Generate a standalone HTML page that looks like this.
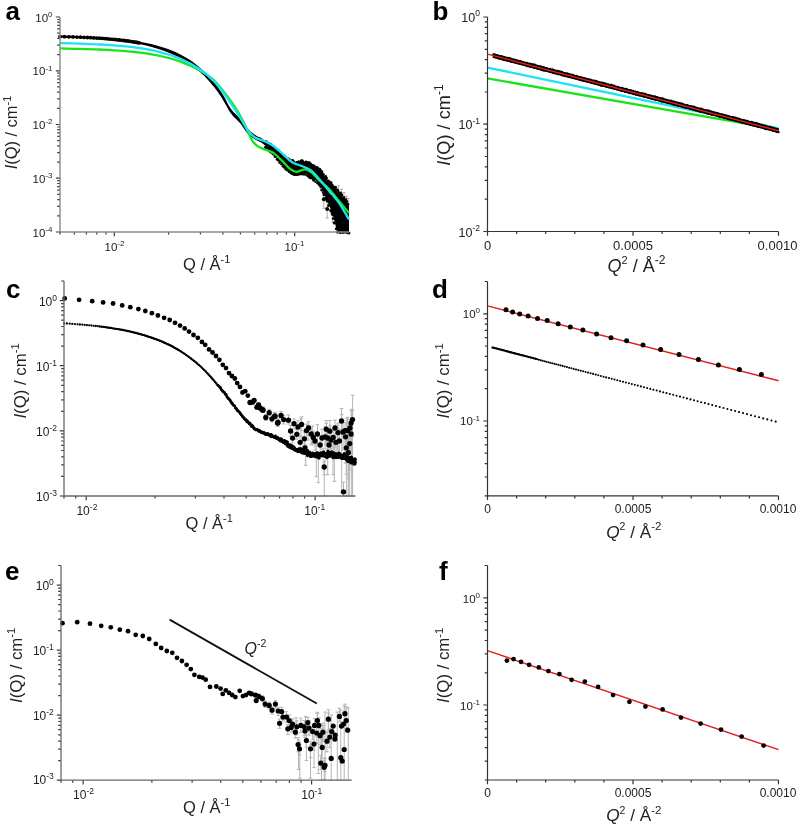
<!DOCTYPE html><html><head><meta charset="utf-8"><style>html,body{margin:0;padding:0;background:#fff;}svg{display:block;will-change:transform;}text{font-family:"Liberation Sans",sans-serif;}</style></head><body>
<svg width="800" height="825" viewBox="0 0 800 825">
<rect width="800" height="825" fill="#fff"/>
<path d="M60 36.6C60.5 36.6 62 36.6 63 36.6C64 36.7 65 36.7 66 36.7C67 36.7 68 36.8 69 36.8C70 36.8 71 36.9 72 36.9C73 36.9 74 37 75 37C76 37 77 37.1 78 37.1C79 37.2 80 37.2 81 37.2C82 37.3 83 37.3 84 37.4C85 37.4 86 37.5 87 37.5C88 37.6 89 37.6 90 37.7C91 37.7 92 37.8 93 37.8C94 37.9 95 37.9 96 38C97 38.1 98 38.1 99 38.2C100 38.3 101 38.3 102 38.4C103 38.5 104 38.6 105 38.6C106 38.7 107 38.8 108 38.9C109 39 110 39 111 39.1C112 39.2 113 39.3 114 39.4C115 39.5 116 39.6 117 39.7C118 39.8 119 39.9 120 40C121 40.2 122 40.3 123 40.4C124 40.5 125 40.6 126 40.8C127 40.9 128 41 129 41.2C130 41.3 131 41.5 132 41.6C133 41.8 134.5 42 135 42.1" stroke="#000" stroke-width="2.1" fill="none"/>
<path d="M323.8 190.3V208.3M322.3 190.3H325.3M322.3 208.3H325.3M327.2 200V218M325.7 200H328.7M325.7 218H328.7M332.5 203.9V221.9M331 203.9H334M331 221.9H334M336.4 210.2V228.2M334.9 210.2H337.9M334.9 228.2H337.9M341 214V232M339.5 214H342.5M339.5 232H342.5M345 217V232M343.5 217H346.5M343.5 232H346.5M338.5 185.7V232M337 185.7H340M337 232H340M341.5 189.3V232M340 189.3H343M340 232H343M344 192.5V232M342.5 192.5H345.5M342.5 232H345.5M346.5 196.2V232M345 196.2H348M345 232H348M348 198.5V232M346.5 198.5H349.5M346.5 232H349.5" stroke="#b0b0b0" stroke-width="1" fill="none"/>
<path d="M130 40.2C131.7 40.5 136.7 41.2 140 41.7C143.3 42.3 146.7 43 150 43.7C153.3 44.5 156.7 45.4 160 46.4C163.3 47.4 166.7 48.5 170 49.8C173.3 51.1 176.7 52.5 180 54.3C183.3 56 186.7 57.9 190 60.1C193.3 62.3 197 65.1 200 67.7C203 70.2 205.3 72.5 208 75.3C210.7 78.1 213.5 81.4 216 84.7C218.5 87.9 220.5 90.6 223 94.7C225.5 98.7 228.2 105 231 109C233.8 113 237.2 115.2 240 118.5C242.8 121.8 245.3 126.2 248 129C250.7 131.8 253.7 133.9 256 135.5C258.3 137.1 259.7 136.9 262 138.5C264.3 140.1 267.6 143.2 270 145C272.4 146.8 274.2 147.6 276.2 149.4C278.3 151.2 280.4 153.8 282.5 155.6C284.6 157.4 286.7 158.8 288.8 160C290.8 161.2 292.9 162.8 295 163.1C297.1 163.4 299.2 161.8 301.2 161.9C303.3 162 305.4 162.8 307.5 163.4C309.6 164 311.7 164.5 313.8 165.6C315.8 166.7 317.4 167.2 320 170C322.6 172.8 326 178.6 329.1 182.3C332.2 186 336.4 189.4 338.8 192C341.2 194.6 342 195.7 343.7 198C345.4 200.3 348.1 204.7 349 206L349 232C347.2 232 340.1 232.5 338 232C335.9 231.5 337.2 231.2 336.5 229C335.8 226.8 334.9 222.2 334 219C333.1 215.8 332.3 213.4 331 210C329.7 206.6 328 203 326.2 198.8C324.4 194.6 322.1 188.3 320 185C317.9 181.7 315.8 180.5 313.8 178.8C311.7 177 309.6 175.3 307.5 174.4C305.4 173.5 303.3 173.2 301.2 173.1C299.2 173 297.1 174.2 295 173.8C292.9 173.3 290.8 172.1 288.8 170.6C286.7 169.1 284.6 167.3 282.5 165C280.4 162.7 278.3 159.4 276.2 156.9C274.2 154.4 272.4 152.3 270 150C267.6 147.7 264.3 144.7 262 143C259.7 141.3 258.3 141.5 256 140C253.7 138.5 250.7 136.8 248 134C245.3 131.2 242.8 126.4 240 123C237.2 119.6 233.8 117.4 231 113.5C228.2 109.6 225.5 103.8 223 99.9C220.5 95.9 218.5 92.9 216 89.6C213.5 86.3 210.7 82.9 208 80C205.3 77.1 203 74.7 200 72.1C197 69.5 193.3 66.6 190 64.2C186.7 61.9 183.3 59.9 180 58.1C176.7 56.2 173.3 54.7 170 53.3C166.7 51.9 163.3 50.6 160 49.5C156.7 48.4 153.3 47.5 150 46.6C146.7 45.7 143.3 45 140 44.3C136.7 43.6 131.7 42.7 130 42.4Z" fill="#000"/>
<g fill="#000"><circle cx="60" cy="36.6" r="1.9"/><circle cx="64.6" cy="36.7" r="1.9"/><circle cx="68.9" cy="36.8" r="1.9"/><circle cx="73" cy="36.9" r="1.9"/><circle cx="76.9" cy="37.1" r="1.9"/><circle cx="80.6" cy="37.2" r="1.9"/><circle cx="84.1" cy="37.4" r="1.9"/><circle cx="87.5" cy="37.5" r="1.9"/><circle cx="90.7" cy="37.7" r="1.9"/><circle cx="93.8" cy="37.9" r="1.9"/><circle cx="96.8" cy="38.1" r="1.9"/><circle cx="99.7" cy="38.2" r="1.9"/><circle cx="102.5" cy="38.4" r="1.9"/><circle cx="105.2" cy="38.6" r="1.9"/><circle cx="107.8" cy="38.9" r="1.9"/><circle cx="110.3" cy="39.1" r="1.9"/><circle cx="112.7" cy="39.3" r="1.9"/><circle cx="115.1" cy="39.5" r="1.9"/><circle cx="117.4" cy="39.8" r="1.9"/><circle cx="119.6" cy="40" r="1.9"/><circle cx="121.8" cy="40.3" r="1.9"/><circle cx="123.9" cy="40.5" r="1.9"/><circle cx="125.9" cy="40.8" r="1.9"/><circle cx="127.9" cy="41" r="1.9"/><circle cx="129.9" cy="41.3" r="1.9"/><circle cx="131.8" cy="41.6" r="1.9"/><circle cx="133.6" cy="41.9" r="1.9"/><circle cx="135.5" cy="42.2" r="1.9"/><circle cx="137.2" cy="42.5" r="1.9"/><circle cx="139" cy="42.8" r="1.9"/><circle cx="265.9" cy="141.6" r="1.6"/><circle cx="267.1" cy="142.2" r="1.2"/><circle cx="268.2" cy="143.3" r="1.2"/><circle cx="269.6" cy="143.7" r="1.3"/><circle cx="271" cy="144.5" r="1.5"/><circle cx="272.7" cy="146.6" r="1.7"/><circle cx="273.3" cy="147.4" r="1.4"/><circle cx="275.1" cy="148.1" r="1.6"/><circle cx="276.8" cy="149.8" r="1.2"/><circle cx="278.1" cy="150.6" r="1.4"/><circle cx="279.5" cy="152.3" r="1.7"/><circle cx="281.1" cy="153.7" r="1.5"/><circle cx="283.3" cy="155.7" r="1.8"/><circle cx="284.2" cy="155.9" r="1.3"/><circle cx="285.4" cy="157.1" r="1.7"/><circle cx="287.6" cy="158.6" r="1.6"/><circle cx="289" cy="159.5" r="1.7"/><circle cx="290.8" cy="160.2" r="1.2"/><circle cx="292.7" cy="160.7" r="1.7"/><circle cx="293.7" cy="161.7" r="1.2"/><circle cx="295" cy="162.9" r="1.2"/><circle cx="296.8" cy="162.4" r="1.4"/><circle cx="298.6" cy="161.8" r="1.5"/><circle cx="301.1" cy="160.9" r="1.4"/><circle cx="302.1" cy="161.1" r="1.8"/><circle cx="303.1" cy="162.1" r="1.3"/><circle cx="304.9" cy="162.5" r="1.2"/><circle cx="306.2" cy="162.4" r="1.8"/><circle cx="308" cy="162.8" r="1.6"/><circle cx="309.4" cy="163" r="1.7"/><circle cx="310.8" cy="164.1" r="1.3"/><circle cx="312.1" cy="165.1" r="1.3"/><circle cx="313.5" cy="165.5" r="1.2"/><circle cx="314.5" cy="165.9" r="1.2"/><circle cx="316.8" cy="167.5" r="1.4"/><circle cx="317.9" cy="168.4" r="1.7"/><circle cx="320" cy="169.4" r="1.3"/><circle cx="321" cy="171.2" r="1.7"/><circle cx="321.9" cy="171.9" r="1.5"/><circle cx="323.4" cy="174.6" r="1.5"/><circle cx="325.7" cy="176.4" r="1.4"/><circle cx="326.5" cy="178.2" r="1.5"/><circle cx="328.4" cy="181.3" r="1.7"/><circle cx="330.8" cy="182.8" r="1.7"/><circle cx="332" cy="184.8" r="1.4"/><circle cx="332.9" cy="186.2" r="1.4"/><circle cx="335.3" cy="187.6" r="1.8"/><circle cx="337.3" cy="189.7" r="1.3"/><circle cx="338" cy="191.1" r="1.6"/><circle cx="340.4" cy="193" r="1.6"/><circle cx="341.6" cy="195" r="1.7"/><circle cx="343.9" cy="197.4" r="1.3"/><circle cx="345.3" cy="199.7" r="1.8"/><circle cx="346.8" cy="201.6" r="1.6"/><circle cx="347.7" cy="204.4" r="1.7"/><circle cx="265.7" cy="147.5" r="1.8"/><circle cx="267.5" cy="148.6" r="1.3"/><circle cx="269" cy="149.6" r="1.5"/><circle cx="270.6" cy="151.7" r="1.7"/><circle cx="271.6" cy="152.4" r="1.3"/><circle cx="273.2" cy="154.3" r="1.3"/><circle cx="275.2" cy="156.4" r="1.6"/><circle cx="277.2" cy="159.3" r="1.5"/><circle cx="278.8" cy="160.2" r="1.5"/><circle cx="279.5" cy="162.6" r="1.3"/><circle cx="281.6" cy="164.2" r="1.4"/><circle cx="283" cy="166.3" r="1.3"/><circle cx="284.3" cy="167.1" r="1.7"/><circle cx="286" cy="169" r="1.7"/><circle cx="287.5" cy="170" r="1.5"/><circle cx="289.1" cy="171.4" r="1.5"/><circle cx="291.2" cy="172.8" r="1.8"/><circle cx="292.4" cy="173.5" r="1.7"/><circle cx="293.2" cy="173.5" r="1.2"/><circle cx="294.4" cy="174.4" r="1.7"/><circle cx="296.3" cy="174.4" r="1.6"/><circle cx="298.1" cy="174.6" r="1.3"/><circle cx="299.6" cy="173.8" r="1.8"/><circle cx="301.3" cy="173.7" r="1.5"/><circle cx="302.6" cy="173.8" r="1.6"/><circle cx="303.9" cy="174.2" r="1.2"/><circle cx="305.3" cy="174.5" r="1.2"/><circle cx="307.4" cy="175.5" r="1.3"/><circle cx="308.1" cy="176" r="1.4"/><circle cx="309.5" cy="177" r="1.7"/><circle cx="310.6" cy="177.8" r="1.5"/><circle cx="312.2" cy="178" r="1.6"/><circle cx="313.6" cy="180.1" r="1.6"/><circle cx="315.5" cy="181.8" r="1.2"/><circle cx="317.6" cy="183.1" r="1.5"/><circle cx="319.4" cy="184.7" r="1.5"/><circle cx="320.5" cy="187" r="1.2"/><circle cx="321.9" cy="189.9" r="1.7"/><circle cx="323.3" cy="192.6" r="1.4"/><circle cx="324.1" cy="194.6" r="1.6"/><circle cx="325.6" cy="198.6" r="1.8"/><circle cx="327.2" cy="201.1" r="1.5"/><circle cx="328.7" cy="205.5" r="1.6"/><circle cx="330.7" cy="210.5" r="1.6"/><circle cx="332.4" cy="214.7" r="1.2"/><circle cx="333.2" cy="218.6" r="1.4"/><circle cx="334.4" cy="222.9" r="1.7"/><circle cx="336.2" cy="228.9" r="1.4"/><circle cx="337.6" cy="232.3" r="1.4"/><circle cx="340.2" cy="232.7" r="1.3"/><circle cx="341.6" cy="232.4" r="1.2"/><circle cx="343.1" cy="232.6" r="1.3"/><circle cx="344.3" cy="232.3" r="1.3"/><circle cx="345.7" cy="232" r="1.4"/><circle cx="347.4" cy="232.6" r="1.7"/><circle cx="349.1" cy="233.1" r="1.4"/><circle cx="323.8" cy="199.3" r="2.0"/><circle cx="327.2" cy="209" r="2.0"/><circle cx="332.5" cy="212.9" r="2.0"/><circle cx="336.4" cy="219.2" r="2.0"/><circle cx="341" cy="223" r="2.0"/><circle cx="345" cy="226" r="2.0"/></g>
<path d="M60 48.4C63.3 48.5 73.3 48.6 80 48.8C86.7 49 93.3 49.2 100 49.5C106.7 49.9 113.3 50.2 120 50.7C126.7 51.2 133.3 51.8 140 52.7C146.7 53.6 153.3 54.5 160 56C166.7 57.4 173.3 59 180 61.4C186.7 63.9 194.2 67.2 200 70.5C205.8 73.8 210 76.2 215 81.2C220 86.1 226.2 95 230 100C233.8 105 235 107.1 237.5 111.2C240 115.4 242.7 120.4 245 125C247.3 129.6 249.2 135.2 251.2 138.8C253.3 142.3 255 144.4 257.5 146.2C260 148.1 263.5 148.9 266.2 150C269 151.1 271 151.2 273.8 153.1C276.5 155 279.8 158.6 282.5 161.2C285.2 163.9 287.7 167 290 168.8C292.3 170.5 293.8 171.8 296.2 171.9C298.8 172 302.4 169.3 305 169.4C307.6 169.5 309.3 170.8 311.7 172.6C314.1 174.4 316.5 177.7 319.4 180.4C322.3 183.2 325.9 185.7 329.1 189.1C332.3 192.5 335.5 196.8 338.8 200.8C342.1 204.8 347.3 211 349 213" stroke="#18e418" stroke-width="2.3" fill="none"/>
<path d="M60 43.1C63.3 43.2 73.3 43.4 80 43.6C86.7 43.9 93.3 44.1 100 44.5C106.7 44.8 113.3 45.3 120 45.9C126.7 46.5 133.3 47.2 140 48.2C146.7 49.3 153.3 50.4 160 52.1C166.7 53.9 173.3 55.7 180 58.6C186.7 61.5 194.2 65.6 200 69.5C205.8 73.4 210.4 77.3 215 82.1C219.6 87 223.3 92.6 227.5 98.5C231.7 104.4 236.7 112.2 240 117.5C243.3 122.8 245 126.7 247.5 130C250 133.3 252.1 135.6 255 137.5C257.9 139.4 261.9 139.8 265 141.2C268.1 142.7 270.8 144.2 273.8 146.2C276.7 148.3 279.4 151 282.5 153.8C285.6 156.5 289.2 160.4 292.5 162.5C295.8 164.6 299.4 164.9 302.5 166.2C305.6 167.6 308.3 168.3 311.2 170.6C314.2 172.9 317 176.6 320 180C323 183.4 326 187.2 329.1 191C332.2 194.8 335.5 197.9 338.8 202.7C342.1 207.4 347.3 216.7 349 219.5" stroke="#18e4f4" stroke-width="2.3" fill="none"/>
<path d="M55.8 232H60M55.8 178.2H60M55.8 124.5H60M55.8 70.8H60M55.8 17H60M57.2 215.8H60M57.2 206.4H60M57.2 199.6H60M57.2 194.4H60M57.2 190.2H60M57.2 186.6H60M57.2 183.5H60M57.2 180.7H60M57.2 162.1H60M57.2 152.6H60M57.2 145.9H60M57.2 140.7H60M57.2 136.4H60M57.2 132.8H60M57.2 129.7H60M57.2 127H60M57.2 108.3H60M57.2 98.9H60M57.2 92.1H60M57.2 86.9H60M57.2 82.7H60M57.2 79.1H60M57.2 76H60M57.2 73.2H60M57.2 54.6H60M57.2 45.1H60M57.2 38.4H60M57.2 33.2H60M57.2 28.9H60M57.2 25.3H60M57.2 22.2H60M57.2 19.5H60M114.3 232V236.2M294.7 232V236.2M60 232V234.5M74.3 232V234.5M86.4 232V234.5M96.8 232V234.5M106 232V234.5M168.6 232V234.5M200.4 232V234.5M222.9 232V234.5M240.4 232V234.5M254.7 232V234.5M266.8 232V234.5M277.2 232V234.5M286.4 232V234.5M349 232V234.5" stroke="#3a3a3a" stroke-width="1.2" fill="none"/>
<path d="M60 232H349M60 232V17" stroke="#8a8a8a" stroke-width="1.4" fill="none"/>
<path d="M487.5 78.4L778.5 129.4" stroke="#18e418" stroke-width="2.3" fill="none"/>
<path d="M487.5 67.6L778.5 128.3" stroke="#18e4f4" stroke-width="2.3" fill="none"/>
<path d="M493 55.5L778 130.6" stroke="#000" stroke-width="4.4" fill="none"/>
<g fill="#000"><circle cx="493.5" cy="54.6" r="1.25"/><circle cx="494.2" cy="56.7" r="1.25"/><circle cx="495.7" cy="55" r="1.25"/><circle cx="496.4" cy="57.2" r="1.25"/><circle cx="497.9" cy="55.7" r="1.25"/><circle cx="498.6" cy="58.2" r="1.25"/><circle cx="500.1" cy="56.2" r="1.25"/><circle cx="500.8" cy="58.5" r="1.25"/><circle cx="502.2" cy="56.6" r="1.25"/><circle cx="502.9" cy="59.5" r="1.25"/><circle cx="504.4" cy="57.4" r="1.25"/><circle cx="505.1" cy="59.9" r="1.25"/><circle cx="506.7" cy="57.9" r="1.25"/><circle cx="507.4" cy="60.6" r="1.25"/><circle cx="508.5" cy="57.9" r="1.25"/><circle cx="509.2" cy="60.7" r="1.25"/><circle cx="510.4" cy="58.5" r="1.25"/><circle cx="511.1" cy="61.7" r="1.25"/><circle cx="512.4" cy="59.4" r="1.25"/><circle cx="513.1" cy="62.1" r="1.25"/><circle cx="514.6" cy="59.8" r="1.25"/><circle cx="515.3" cy="62.2" r="1.25"/><circle cx="516.8" cy="60.6" r="1.25"/><circle cx="517.5" cy="63.1" r="1.25"/><circle cx="518.8" cy="61.1" r="1.25"/><circle cx="519.5" cy="63.4" r="1.25"/><circle cx="521" cy="61.4" r="1.25"/><circle cx="521.7" cy="63.9" r="1.25"/><circle cx="522.8" cy="62.2" r="1.25"/><circle cx="523.5" cy="64.5" r="1.25"/><circle cx="525" cy="62.9" r="1.25"/><circle cx="525.7" cy="65.3" r="1.25"/><circle cx="526.9" cy="63.1" r="1.25"/><circle cx="527.6" cy="65.9" r="1.25"/><circle cx="529.2" cy="63.8" r="1.25"/><circle cx="529.9" cy="66.5" r="1.25"/><circle cx="530.8" cy="63.9" r="1.25"/><circle cx="531.5" cy="66.6" r="1.25"/><circle cx="533" cy="64.6" r="1.25"/><circle cx="533.7" cy="67.4" r="1.25"/><circle cx="534.6" cy="64.8" r="1.25"/><circle cx="535.3" cy="67.7" r="1.25"/><circle cx="536.8" cy="65.8" r="1.25"/><circle cx="537.5" cy="68.5" r="1.25"/><circle cx="538.6" cy="66.2" r="1.25"/><circle cx="539.3" cy="68.8" r="1.25"/><circle cx="540.6" cy="66.4" r="1.25"/><circle cx="541.3" cy="69.7" r="1.25"/><circle cx="542.3" cy="67.5" r="1.25"/><circle cx="543" cy="70.2" r="1.25"/><circle cx="543.9" cy="67.5" r="1.25"/><circle cx="544.6" cy="70.5" r="1.25"/><circle cx="546.3" cy="68.2" r="1.25"/><circle cx="547" cy="70.7" r="1.25"/><circle cx="548.1" cy="69" r="1.25"/><circle cx="548.8" cy="71.2" r="1.25"/><circle cx="550.1" cy="69" r="1.25"/><circle cx="550.8" cy="71.9" r="1.25"/><circle cx="552.5" cy="69.6" r="1.25"/><circle cx="553.2" cy="72.8" r="1.25"/><circle cx="554.5" cy="70.6" r="1.25"/><circle cx="555.2" cy="73.2" r="1.25"/><circle cx="556.3" cy="71.1" r="1.25"/><circle cx="557" cy="73.5" r="1.25"/><circle cx="557.9" cy="70.9" r="1.25"/><circle cx="558.6" cy="74" r="1.25"/><circle cx="559.9" cy="71.6" r="1.25"/><circle cx="560.6" cy="74.2" r="1.25"/><circle cx="561.8" cy="72.1" r="1.25"/><circle cx="562.5" cy="75.2" r="1.25"/><circle cx="563.4" cy="72.9" r="1.25"/><circle cx="564.1" cy="75.6" r="1.25"/><circle cx="565.1" cy="73.4" r="1.25"/><circle cx="565.8" cy="76" r="1.25"/><circle cx="567.4" cy="73.6" r="1.25"/><circle cx="568.1" cy="76.4" r="1.25"/><circle cx="569.3" cy="74.6" r="1.25"/><circle cx="570" cy="77" r="1.25"/><circle cx="571.2" cy="74.7" r="1.25"/><circle cx="571.9" cy="77.3" r="1.25"/><circle cx="572.8" cy="74.9" r="1.25"/><circle cx="573.5" cy="78.1" r="1.25"/><circle cx="574.6" cy="76" r="1.25"/><circle cx="575.3" cy="78.2" r="1.25"/><circle cx="576.5" cy="76.1" r="1.25"/><circle cx="577.2" cy="78.6" r="1.25"/><circle cx="578.4" cy="77" r="1.25"/><circle cx="579.1" cy="79.6" r="1.25"/><circle cx="580.6" cy="77.3" r="1.25"/><circle cx="581.3" cy="80.2" r="1.25"/><circle cx="583" cy="77.9" r="1.25"/><circle cx="583.7" cy="80.7" r="1.25"/><circle cx="584.6" cy="78.4" r="1.25"/><circle cx="585.3" cy="81" r="1.25"/><circle cx="586.8" cy="79" r="1.25"/><circle cx="587.5" cy="81.4" r="1.25"/><circle cx="588.4" cy="79.6" r="1.25"/><circle cx="589.1" cy="81.7" r="1.25"/><circle cx="590.4" cy="79.7" r="1.25"/><circle cx="591.1" cy="82.4" r="1.25"/><circle cx="592.6" cy="80.7" r="1.25"/><circle cx="593.3" cy="82.9" r="1.25"/><circle cx="594.7" cy="80.8" r="1.25"/><circle cx="595.4" cy="83.7" r="1.25"/><circle cx="596.6" cy="81.2" r="1.25"/><circle cx="597.3" cy="83.9" r="1.25"/><circle cx="598.4" cy="82.2" r="1.25"/><circle cx="599.1" cy="84.6" r="1.25"/><circle cx="600.2" cy="82.7" r="1.25"/><circle cx="600.9" cy="85.4" r="1.25"/><circle cx="602.2" cy="82.7" r="1.25"/><circle cx="602.9" cy="85.4" r="1.25"/><circle cx="603.8" cy="83.2" r="1.25"/><circle cx="604.5" cy="85.8" r="1.25"/><circle cx="605.6" cy="83.7" r="1.25"/><circle cx="606.3" cy="86.6" r="1.25"/><circle cx="607.9" cy="84.6" r="1.25"/><circle cx="608.6" cy="87.1" r="1.25"/><circle cx="609.9" cy="85" r="1.25"/><circle cx="610.6" cy="87.6" r="1.25"/><circle cx="611.7" cy="85.1" r="1.25"/><circle cx="612.4" cy="88" r="1.25"/><circle cx="614.1" cy="85.8" r="1.25"/><circle cx="614.8" cy="88.8" r="1.25"/><circle cx="616.2" cy="86.9" r="1.25"/><circle cx="616.9" cy="89.1" r="1.25"/><circle cx="618" cy="86.9" r="1.25"/><circle cx="618.7" cy="89.7" r="1.25"/><circle cx="620" cy="87.9" r="1.25"/><circle cx="620.7" cy="90.6" r="1.25"/><circle cx="622.3" cy="87.9" r="1.25"/><circle cx="623" cy="90.6" r="1.25"/><circle cx="624.4" cy="89.1" r="1.25"/><circle cx="625.1" cy="91.5" r="1.25"/><circle cx="626.5" cy="89" r="1.25"/><circle cx="627.2" cy="92" r="1.25"/><circle cx="628.9" cy="90.2" r="1.25"/><circle cx="629.6" cy="92.9" r="1.25"/><circle cx="631.2" cy="90.4" r="1.25"/><circle cx="631.9" cy="93" r="1.25"/><circle cx="633" cy="91" r="1.25"/><circle cx="633.7" cy="93.9" r="1.25"/><circle cx="635.3" cy="91.8" r="1.25"/><circle cx="636" cy="94.5" r="1.25"/><circle cx="637.5" cy="92.2" r="1.25"/><circle cx="638.2" cy="95" r="1.25"/><circle cx="639.2" cy="92.9" r="1.25"/><circle cx="639.9" cy="95.2" r="1.25"/><circle cx="641.5" cy="93.4" r="1.25"/><circle cx="642.2" cy="95.8" r="1.25"/><circle cx="643.2" cy="93.6" r="1.25"/><circle cx="643.9" cy="96.5" r="1.25"/><circle cx="645.3" cy="94" r="1.25"/><circle cx="646" cy="96.7" r="1.25"/><circle cx="647.4" cy="94.9" r="1.25"/><circle cx="648.1" cy="97.4" r="1.25"/><circle cx="649.1" cy="95.4" r="1.25"/><circle cx="649.8" cy="97.7" r="1.25"/><circle cx="651" cy="95.8" r="1.25"/><circle cx="651.7" cy="98.8" r="1.25"/><circle cx="653.1" cy="96.6" r="1.25"/><circle cx="653.8" cy="99" r="1.25"/><circle cx="654.9" cy="96.6" r="1.25"/><circle cx="655.6" cy="99.8" r="1.25"/><circle cx="657.1" cy="97.2" r="1.25"/><circle cx="657.8" cy="99.7" r="1.25"/><circle cx="659.1" cy="98" r="1.25"/><circle cx="659.8" cy="100.6" r="1.25"/><circle cx="660.9" cy="98.5" r="1.25"/><circle cx="661.6" cy="101.4" r="1.25"/><circle cx="662.6" cy="98.5" r="1.25"/><circle cx="663.3" cy="101.4" r="1.25"/><circle cx="664.6" cy="99.5" r="1.25"/><circle cx="665.3" cy="101.9" r="1.25"/><circle cx="666.8" cy="100.1" r="1.25"/><circle cx="667.5" cy="102.7" r="1.25"/><circle cx="668.6" cy="100.7" r="1.25"/><circle cx="669.3" cy="103" r="1.25"/><circle cx="670.8" cy="100.8" r="1.25"/><circle cx="671.5" cy="103.5" r="1.25"/><circle cx="673" cy="101.4" r="1.25"/><circle cx="673.7" cy="104.6" r="1.25"/><circle cx="675" cy="101.9" r="1.25"/><circle cx="675.7" cy="104.6" r="1.25"/><circle cx="677" cy="102.7" r="1.25"/><circle cx="677.7" cy="105.6" r="1.25"/><circle cx="678.7" cy="103" r="1.25"/><circle cx="679.4" cy="105.6" r="1.25"/><circle cx="681.1" cy="103.5" r="1.25"/><circle cx="681.8" cy="106.1" r="1.25"/><circle cx="682.7" cy="104.1" r="1.25"/><circle cx="683.4" cy="107.1" r="1.25"/><circle cx="685" cy="104.9" r="1.25"/><circle cx="685.7" cy="107.8" r="1.25"/><circle cx="687.4" cy="105.2" r="1.25"/><circle cx="688.1" cy="107.8" r="1.25"/><circle cx="689.7" cy="106.2" r="1.25"/><circle cx="690.4" cy="108.4" r="1.25"/><circle cx="691.9" cy="106.5" r="1.25"/><circle cx="692.6" cy="109.2" r="1.25"/><circle cx="693.7" cy="106.8" r="1.25"/><circle cx="694.4" cy="109.4" r="1.25"/><circle cx="695.5" cy="107.4" r="1.25"/><circle cx="696.2" cy="110.5" r="1.25"/><circle cx="697.2" cy="108.3" r="1.25"/><circle cx="697.9" cy="110.5" r="1.25"/><circle cx="699.1" cy="108.7" r="1.25"/><circle cx="699.8" cy="111.4" r="1.25"/><circle cx="701.1" cy="108.7" r="1.25"/><circle cx="701.8" cy="111.7" r="1.25"/><circle cx="703" cy="109.8" r="1.25"/><circle cx="703.7" cy="112" r="1.25"/><circle cx="704.9" cy="110.3" r="1.25"/><circle cx="705.6" cy="112.3" r="1.25"/><circle cx="706.8" cy="110.7" r="1.25"/><circle cx="707.5" cy="113.4" r="1.25"/><circle cx="708.4" cy="110.6" r="1.25"/><circle cx="709.1" cy="113.3" r="1.25"/><circle cx="710.8" cy="111.4" r="1.25"/><circle cx="711.5" cy="114.4" r="1.25"/><circle cx="713.1" cy="112" r="1.25"/><circle cx="713.8" cy="114.7" r="1.25"/><circle cx="715.4" cy="112.8" r="1.25"/><circle cx="716.1" cy="115.3" r="1.25"/><circle cx="717.6" cy="113.2" r="1.25"/><circle cx="718.3" cy="115.9" r="1.25"/><circle cx="719.2" cy="113.9" r="1.25"/><circle cx="719.9" cy="116.8" r="1.25"/><circle cx="721.3" cy="114.6" r="1.25"/><circle cx="722" cy="116.7" r="1.25"/><circle cx="723.1" cy="114.8" r="1.25"/><circle cx="723.8" cy="117.8" r="1.25"/><circle cx="725.5" cy="115.3" r="1.25"/><circle cx="726.2" cy="117.9" r="1.25"/><circle cx="727.4" cy="115.9" r="1.25"/><circle cx="728.1" cy="118.9" r="1.25"/><circle cx="729.2" cy="116.6" r="1.25"/><circle cx="729.9" cy="119.2" r="1.25"/><circle cx="731.4" cy="117.2" r="1.25"/><circle cx="732.1" cy="119.8" r="1.25"/><circle cx="733.3" cy="117.3" r="1.25"/><circle cx="734" cy="120.1" r="1.25"/><circle cx="735.5" cy="117.8" r="1.25"/><circle cx="736.2" cy="120.5" r="1.25"/><circle cx="737.7" cy="118.5" r="1.25"/><circle cx="738.4" cy="121" r="1.25"/><circle cx="739.3" cy="119.1" r="1.25"/><circle cx="740" cy="121.6" r="1.25"/><circle cx="741.7" cy="120" r="1.25"/><circle cx="742.4" cy="122.7" r="1.25"/><circle cx="743.5" cy="119.9" r="1.25"/><circle cx="744.2" cy="122.6" r="1.25"/><circle cx="745.5" cy="120.8" r="1.25"/><circle cx="746.2" cy="123.4" r="1.25"/><circle cx="747.3" cy="121.1" r="1.25"/><circle cx="748" cy="124" r="1.25"/><circle cx="749.5" cy="121.9" r="1.25"/><circle cx="750.2" cy="124.7" r="1.25"/><circle cx="751.6" cy="122" r="1.25"/><circle cx="752.3" cy="125.2" r="1.25"/><circle cx="753.4" cy="122.8" r="1.25"/><circle cx="754.1" cy="125.4" r="1.25"/><circle cx="755.6" cy="123.1" r="1.25"/><circle cx="756.3" cy="125.9" r="1.25"/><circle cx="757.4" cy="123.6" r="1.25"/><circle cx="758.1" cy="126.8" r="1.25"/><circle cx="759.5" cy="124.2" r="1.25"/><circle cx="760.2" cy="127" r="1.25"/><circle cx="761.9" cy="125" r="1.25"/><circle cx="762.6" cy="127.5" r="1.25"/><circle cx="764.1" cy="125.7" r="1.25"/><circle cx="764.8" cy="128.6" r="1.25"/><circle cx="765.8" cy="126" r="1.25"/><circle cx="766.5" cy="129" r="1.25"/><circle cx="768.1" cy="126.9" r="1.25"/><circle cx="768.8" cy="129" r="1.25"/><circle cx="769.9" cy="126.9" r="1.25"/><circle cx="770.6" cy="129.6" r="1.25"/><circle cx="772.3" cy="127.8" r="1.25"/><circle cx="773" cy="130.7" r="1.25"/><circle cx="774.2" cy="128.5" r="1.25"/><circle cx="774.9" cy="130.9" r="1.25"/><circle cx="776" cy="128.9" r="1.25"/><circle cx="776.7" cy="131.7" r="1.25"/><circle cx="777.7" cy="129.2" r="1.25"/><circle cx="778.4" cy="131.9" r="1.25"/></g>
<path d="M487.5 54.1L778.5 130.8" stroke="#e41c1c" stroke-width="1.4" fill="none"/>
<path d="M483.3 231.5H487.5M483.3 124.2H487.5M483.3 17H487.5M484.7 199.2H487.5M484.7 180.3H487.5M484.7 166.9H487.5M484.7 156.5H487.5M484.7 148H487.5M484.7 140.9H487.5M484.7 134.6H487.5M484.7 129.2H487.5M484.7 92H487.5M484.7 73.1H487.5M484.7 59.7H487.5M484.7 49.3H487.5M484.7 40.8H487.5M484.7 33.6H487.5M484.7 27.4H487.5M484.7 21.9H487.5M487.5 231.5V235.7M633 231.5V235.7M778.5 231.5V235.7M516.6 231.5V234M545.7 231.5V234M574.8 231.5V234M603.9 231.5V234M662.1 231.5V234M691.2 231.5V234M720.3 231.5V234M749.4 231.5V234" stroke="#333" stroke-width="1.2" fill="none"/>
<path d="M487.5 231.5H778.5M487.5 231.5V17" stroke="#333" stroke-width="1.2" fill="none"/>
<path d="M262.4 407.1V412.5M260.6 407.1H264.2M260.6 412.5H264.2M269.2 409.4V415.4M267.4 409.4H271.1M267.4 415.4H271.1M265.8 414.3V420.2M264 414.3H267.6M264 420.2H267.6M274.8 412.4V418.9M272.9 412.4H276.6M272.9 418.9H276.6M277.5 419V426.5M275.7 419H279.3M275.7 426.5H279.3M281 411.3V418.9M279.2 411.3H282.8M279.2 418.9H282.8M283.7 415.3V424M281.9 415.3H285.5M281.9 424H285.5M288.5 415V424M286.7 415H290.3M286.7 424H290.3M294 419V428.8M292.2 419H295.8M292.2 428.8H295.8M290.6 425.5V436.2M288.8 425.5H292.4M288.8 436.2H292.4M296.8 429.4V439.1M294.9 429.4H298.6M294.9 439.1H298.6M292.6 432.1V443M290.8 432.1H294.4M290.8 443H294.4M300.2 436.7V448M298.4 436.7H302M298.4 448H302M301.6 416.8V430.4M299.8 416.8H303.4M299.8 430.4H303.4M304.3 432V445.4M302.5 432H306.1M302.5 445.4H306.1M306.4 424.1V440.1M304.6 424.1H308.2M304.6 440.1H308.2M305 439.6V454.5M303.2 439.6H306.8M303.2 454.5H306.8M311.2 427.9V444.1M309.4 427.9H313M309.4 444.1H313M313.3 431.1V443.5M311.5 431.1H315.1M311.5 443.5H315.1M317.4 424.7V443.8M315.6 424.7H319.2M315.6 443.8H319.2M320.1 435.7V455.3M318.3 435.7H321.9M318.3 455.3H321.9M325 426.7V448.9M323.2 426.7H326.8M323.2 448.9H326.8M324.2 460.1V474.8M322.4 460.1H326.1M322.4 474.8H326.1M326.3 420.5V443.4M324.5 420.5H328.1M324.5 443.4H328.1M329.8 420.5V440.7M327.9 420.5H331.6M327.9 440.7H331.6M329.1 435.7V457.4M327.3 435.7H330.9M327.3 457.4H330.9M333.2 428.2V448.2M331.4 428.2H335M331.4 448.2H335M336 434V458.6M334.2 434H337.8M334.2 458.6H337.8M339.4 429V452.7M337.6 429H341.2M337.6 452.7H341.2M338 423.1V453.4M336.2 423.1H339.8M336.2 453.4H339.8M341.5 408.6V434.5M339.7 408.6H343.3M339.7 434.5H343.3M345 422.5V457M343.2 422.5H346.8M343.2 457H346.8M347.7 417.4V450.7M345.9 417.4H349.5M345.9 450.7H349.5M345.6 429.1V463.2M343.8 429.1H347.4M343.8 463.2H347.4M346.3 438.1V474.2M344.5 438.1H348.1M344.5 474.2H348.1M348.3 441.4V478.8M346.5 441.4H350.1M346.5 478.8H350.1M349.7 435V469.8M347.9 435H351.5M347.9 469.8H351.5M351.1 425V454M349.3 425H352.9M349.3 454H352.9M351.1 410.2V450.8M349.3 410.2H352.9M349.3 450.8H352.9M352.5 410.7V436.6M350.7 410.7H354.3M350.7 436.6H354.3M343.5 482.3V496M341.7 482.3H345.3M341.7 496H345.3M258.5 402.5V407.5M256.7 402.5H260.3M256.7 407.5H260.3M260.2 405.4V410.6M258.4 405.4H262M258.4 410.6H262M263.1 406.9V412.5M261.3 406.9H264.9M261.3 412.5H264.9M271.9 415V421.8M270.1 415H273.7M270.1 421.8H273.7M275 412.8V419.6M273.2 412.8H276.8M273.2 419.6H276.8M278.1 418.7V426M276.3 418.7H279.9M276.3 426H279.9M298 420.7V433.4M296.2 420.7H299.8M296.2 433.4H299.8M308.5 421.7V435.7M306.7 421.7H310.3M306.7 435.7H310.3M315 433.2V450.2M313.2 433.2H316.8M313.2 450.2H316.8M322 429.2V449.1M320.2 429.2H323.8M320.2 449.1H323.8M327.5 429.7V446.4M325.7 429.7H329.3M325.7 446.4H329.3M331 430.5V454.2M329.2 430.5H332.8M329.2 454.2H332.8M335 420V447M333.2 420H336.8M333.2 447H336.8M343 420.5V449.9M341.2 420.5H344.8M341.2 449.9H344.8M350 419.3V448.8M348.2 419.3H351.8M348.2 448.8H351.8M352.6 395.3V496M350.8 395.3H354.4M350.8 496H354.4M351.7 409.3V496M349.9 409.3H353.5M349.9 496H353.5M341.7 414.7V492.7M339.9 414.7H343.5M339.9 492.7H343.5M346.7 418.7V496M344.9 418.7H348.5M344.9 496H348.5M348.3 425V496M346.5 425H350.1M346.5 496H350.1M349.7 428V496M347.9 428H351.5M347.9 496H351.5M324.3 462V496M322.5 462H326.1M322.5 496H326.1M318.3 459V482.7M316.5 459H320.1M316.5 482.7H320.1M316.3 445V476.7M314.5 445H318.1M314.5 476.7H318.1M327.7 440V474.7M325.9 440H329.5M325.9 474.7H329.5M334.3 440V481.3M332.5 440H336.1M332.5 481.3H336.1M333 442V474.7M331.2 442H334.8M331.2 474.7H334.8M305.7 445V465.3M303.9 445H307.5M303.9 465.3H307.5M301 418.7V436M299.2 418.7H302.8M299.2 436H302.8M308 425.3V440M306.2 425.3H309.8M306.2 440H309.8M312.3 426V445M310.5 426H314.1M310.5 445H314.1M326.3 423.3V445M324.5 423.3H328.1M324.5 445H328.1M330.3 425.3V450M328.5 425.3H332.1M328.5 450H332.1M337.7 425.3V455M335.9 425.3H339.5M335.9 455H339.5" stroke="#b4b4b4" stroke-width="1" fill="none"/>
<path d="M100 326.5C105 327.3 120 329.2 130 331.5C140 333.9 151.7 337.6 160 340.8C168.3 344 173.3 346.7 180 350.9C186.7 355.1 195 361.8 200 366C205 370.2 207.5 373.6 210 376.2C212.5 378.7 212.5 378.6 215 381.5C217.5 384.4 222.2 389.9 225 393.5C227.8 397.1 229.5 399.8 232 403C234.5 406.2 237.8 410.2 240 413C242.2 415.8 243.4 417.8 245.2 419.8C247.1 421.8 249.6 423.5 251.2 425C252.9 426.5 253.1 427.5 255 428.8C256.9 430 260 431.4 262.5 432.5C265 433.6 267.5 434.5 270 435.5C272.5 436.5 275 437.4 277.5 438.5C280 439.6 282.5 440.8 285 442.2C287.5 443.8 290.8 446.3 292.5 447.5C294.2 448.7 293.2 448.9 295 449.5C296.8 450.1 300.4 450.3 303.1 451.1C305.8 451.9 308.5 453.7 311.2 454.4C314 455.1 316.7 455.3 319.4 455.2C322.1 455.1 324.8 453.9 327.5 454C330.2 454.1 332.9 455.5 335.6 456C338.3 456.5 341.1 456.4 343.8 457.2C346.5 457.9 350.5 459.9 351.9 460.5" stroke="#000" stroke-width="1.5" fill="none"/>
<g fill="#000"><circle cx="64.1" cy="323.4" r="1.15"/><circle cx="66.9" cy="323.5" r="1.15"/><circle cx="69.7" cy="323.7" r="1.15"/><circle cx="72.3" cy="323.9" r="1.15"/><circle cx="74.9" cy="324.1" r="1.15"/><circle cx="77.5" cy="324.3" r="1.15"/><circle cx="79.9" cy="324.5" r="1.15"/><circle cx="82.3" cy="324.7" r="1.15"/><circle cx="84.7" cy="324.9" r="1.15"/><circle cx="87" cy="325.1" r="1.15"/><circle cx="89.2" cy="325.3" r="1.15"/><circle cx="91.4" cy="325.5" r="1.15"/><circle cx="93.6" cy="325.8" r="1.15"/><circle cx="95.7" cy="326" r="1.15"/><circle cx="97.7" cy="326.2" r="1.15"/><circle cx="99.7" cy="326.5" r="1.15"/><circle cx="101.7" cy="326.7" r="1.15"/><circle cx="103.6" cy="327" r="1.15"/><circle cx="105.5" cy="327.2" r="1.15"/><circle cx="107.4" cy="327.5" r="1.15"/><circle cx="109.2" cy="327.7" r="1.15"/><circle cx="111" cy="328" r="1.15"/><circle cx="112.8" cy="328.3" r="1.15"/><circle cx="114.5" cy="328.6" r="1.15"/><circle cx="116.2" cy="328.8" r="1.15"/><circle cx="117.9" cy="329.1" r="1.15"/><circle cx="119.6" cy="329.4" r="1.15"/><circle cx="121.2" cy="329.7" r="1.15"/><circle cx="122.8" cy="330" r="1.15"/><circle cx="124.3" cy="330.3" r="1.15"/><circle cx="125.9" cy="330.7" r="1.15"/><circle cx="127.4" cy="331" r="1.15"/><circle cx="128.9" cy="331.3" r="1.15"/><circle cx="130.4" cy="331.6" r="1.15"/><circle cx="131.8" cy="332" r="1.15"/><circle cx="133.3" cy="332.3" r="1.15"/><circle cx="134.7" cy="332.7" r="1.15"/><circle cx="136.1" cy="333" r="1.15"/><circle cx="137.5" cy="333.4" r="1.15"/><circle cx="138.8" cy="333.7" r="1.15"/><circle cx="140.2" cy="334.1" r="1.15"/><circle cx="141.5" cy="334.4" r="1.15"/><circle cx="142.8" cy="334.8" r="1.15"/><circle cx="144.1" cy="335.2" r="1.15"/><circle cx="145.3" cy="335.6" r="1.15"/><circle cx="146.6" cy="336" r="1.15"/><circle cx="147.8" cy="336.4" r="1.15"/><circle cx="149" cy="336.8" r="1.15"/><circle cx="150.3" cy="337.2" r="1.15"/><circle cx="151.4" cy="337.6" r="1.15"/><circle cx="152.6" cy="338" r="1.15"/><circle cx="153.8" cy="338.4" r="1.15"/><circle cx="154.9" cy="338.8" r="1.15"/><circle cx="156.1" cy="339.2" r="1.15"/><circle cx="157.2" cy="339.7" r="1.15"/><circle cx="158.3" cy="340.1" r="1.15"/><circle cx="159.4" cy="340.6" r="1.15"/><circle cx="160.5" cy="341" r="1.15"/><circle cx="161.6" cy="341.4" r="1.15"/><circle cx="162.7" cy="341.9" r="1.15"/><circle cx="163.7" cy="342.4" r="1.15"/><circle cx="164.7" cy="342.8" r="1.15"/><circle cx="165.8" cy="343.3" r="1.15"/><circle cx="166.8" cy="343.8" r="1.15"/><circle cx="167.8" cy="344.3" r="1.15"/><circle cx="168.8" cy="344.7" r="1.15"/><circle cx="169.8" cy="345.2" r="1.15"/><circle cx="170.8" cy="345.7" r="1.15"/><circle cx="171.8" cy="346.2" r="1.15"/><circle cx="172.7" cy="346.7" r="1.15"/><circle cx="173.7" cy="347.2" r="1.15"/><circle cx="174.6" cy="347.8" r="1.15"/><circle cx="175.6" cy="348.3" r="1.15"/><circle cx="176.5" cy="348.8" r="1.15"/><circle cx="177.4" cy="349.3" r="1.15"/><circle cx="178.3" cy="349.9" r="1.15"/><circle cx="179.2" cy="350.4" r="1.15"/><circle cx="181" cy="351.5" r="1.15"/><circle cx="182.7" cy="352.6" r="1.15"/><circle cx="184.4" cy="353.7" r="1.15"/><circle cx="186.1" cy="354.9" r="1.15"/><circle cx="187.8" cy="356.1" r="1.15"/><circle cx="189.4" cy="357.3" r="1.15"/><circle cx="191" cy="358.5" r="1.15"/><circle cx="192.6" cy="359.7" r="1.15"/><circle cx="194.2" cy="360.9" r="1.15"/><circle cx="195.7" cy="362.2" r="1.15"/><circle cx="197.2" cy="363.5" r="1.15"/><circle cx="198.7" cy="364.8" r="1.15"/><circle cx="200.2" cy="366.1" r="1.15"/><circle cx="201.6" cy="367.5" r="1.15"/><circle cx="203" cy="368.9" r="1.15"/><circle cx="204.4" cy="370.2" r="1.15"/><circle cx="205.8" cy="371.6" r="1.15"/><circle cx="207.2" cy="373.1" r="1.15"/><circle cx="208.5" cy="374.5" r="1.15"/><circle cx="209.8" cy="376" r="1.15"/><circle cx="211.2" cy="377.5" r="1.15"/><circle cx="212.4" cy="379" r="1.15"/><circle cx="213.7" cy="380.5" r="1.15"/><circle cx="215" cy="382" r="1.15"/><circle cx="216.2" cy="383.6" r="1.15"/><circle cx="217.5" cy="385.2" r="1.15"/><circle cx="218.1" cy="385.3" r="1.35"/><circle cx="218.7" cy="386" r="1.35"/><circle cx="219.3" cy="386.5" r="1.35"/><circle cx="219.9" cy="387.4" r="1.35"/><circle cx="220.5" cy="387.6" r="1.35"/><circle cx="221" cy="388.9" r="1.35"/><circle cx="221.6" cy="390" r="1.35"/><circle cx="222.2" cy="390.3" r="1.35"/><circle cx="222.8" cy="391.4" r="1.35"/><circle cx="223.4" cy="391.9" r="1.35"/><circle cx="224" cy="392.3" r="1.35"/><circle cx="224.5" cy="392.5" r="1.35"/><circle cx="225.1" cy="394.1" r="1.35"/><circle cx="225.7" cy="394.5" r="1.35"/><circle cx="226.2" cy="394.4" r="1.35"/><circle cx="226.8" cy="396.6" r="1.35"/><circle cx="227.3" cy="397.2" r="1.35"/><circle cx="227.9" cy="398" r="1.35"/><circle cx="228.4" cy="398.8" r="1.35"/><circle cx="229" cy="398.9" r="1.35"/><circle cx="229.5" cy="399.7" r="1.35"/><circle cx="230.1" cy="400.1" r="1.35"/><circle cx="230.6" cy="401.5" r="1.35"/><circle cx="231.1" cy="401.8" r="1.35"/><circle cx="231.7" cy="403.4" r="1.35"/><circle cx="232.2" cy="403" r="1.35"/><circle cx="232.7" cy="404.2" r="1.35"/><circle cx="233.2" cy="405.1" r="1.35"/><circle cx="233.7" cy="405.3" r="1.35"/><circle cx="234.3" cy="405.8" r="1.35"/><circle cx="234.8" cy="406.1" r="1.35"/><circle cx="235.3" cy="407.7" r="1.35"/><circle cx="235.8" cy="408.2" r="1.35"/><circle cx="236.3" cy="409.1" r="1.35"/><circle cx="236.8" cy="408.9" r="1.35"/><circle cx="237.3" cy="410.4" r="1.35"/><circle cx="237.8" cy="410.6" r="1.35"/><circle cx="238.3" cy="411.3" r="1.35"/><circle cx="238.8" cy="411.7" r="1.35"/><circle cx="239.3" cy="412" r="1.35"/><circle cx="239.8" cy="412.7" r="1.35"/><circle cx="240.3" cy="413.8" r="1.35"/><circle cx="240.7" cy="413.9" r="1.35"/><circle cx="241.2" cy="414.7" r="1.35"/><circle cx="241.7" cy="415.3" r="1.35"/><circle cx="242.2" cy="416" r="1.35"/><circle cx="242.7" cy="417" r="1.35"/><circle cx="243.1" cy="416.8" r="1.35"/><circle cx="243.6" cy="417.8" r="1.35"/><circle cx="244.1" cy="418.1" r="1.35"/><circle cx="244.5" cy="418.9" r="1.35"/><circle cx="245" cy="419.2" r="1.35"/><circle cx="245.5" cy="419.3" r="1.35"/><circle cx="245.9" cy="420.2" r="1.35"/><circle cx="246.4" cy="420.1" r="1.35"/><circle cx="246.8" cy="421.9" r="1.35"/><circle cx="247.3" cy="420.9" r="1.35"/><circle cx="247.7" cy="421.7" r="1.35"/><circle cx="248.2" cy="422.5" r="1.35"/><circle cx="248.6" cy="422.6" r="1.35"/><circle cx="249.1" cy="423.8" r="1.35"/><circle cx="249.5" cy="423.5" r="1.35"/><circle cx="250" cy="423.2" r="1.35"/><circle cx="250.4" cy="424.8" r="1.35"/><circle cx="250.8" cy="424.5" r="1.35"/><circle cx="251.3" cy="426.6" r="1.35"/><circle cx="251.7" cy="425" r="1.35"/><circle cx="252.1" cy="425.7" r="1.35"/><circle cx="252.6" cy="426.4" r="1.35"/><circle cx="253" cy="426.2" r="1.35"/><circle cx="253.4" cy="427.6" r="1.35"/><circle cx="253.9" cy="428.4" r="1.35"/><circle cx="254.3" cy="429" r="1.35"/><circle cx="254.7" cy="428.8" r="1.35"/><circle cx="255.1" cy="428.8" r="1.35"/><circle cx="255.5" cy="429.8" r="1.35"/><circle cx="255.9" cy="430" r="1.35"/><circle cx="256.4" cy="429.4" r="1.35"/><circle cx="256.8" cy="429.4" r="1.35"/><circle cx="257.2" cy="429.4" r="1.35"/><circle cx="257.6" cy="430.2" r="1.35"/><circle cx="258" cy="430.3" r="1.35"/><circle cx="258.4" cy="430.9" r="1.35"/><circle cx="258.8" cy="431.3" r="1.35"/><circle cx="259.2" cy="430.2" r="1.35"/><circle cx="259.6" cy="431.4" r="1.35"/><circle cx="260" cy="431.5" r="1.35"/><circle cx="260.4" cy="431.2" r="1.35"/><circle cx="260.8" cy="431.8" r="1.35"/><circle cx="261.2" cy="432.8" r="1.35"/><circle cx="261.6" cy="432.1" r="1.35"/><circle cx="262" cy="432.2" r="1.35"/><circle cx="262.4" cy="432.2" r="1.35"/><circle cx="262.8" cy="432.8" r="1.35"/><circle cx="263.1" cy="432.5" r="1.35"/><circle cx="263.5" cy="433.3" r="1.35"/><circle cx="263.9" cy="432.3" r="1.35"/><circle cx="264.3" cy="432.8" r="1.35"/><circle cx="264.7" cy="433.6" r="1.35"/><circle cx="265.1" cy="434.4" r="1.35"/><circle cx="265.4" cy="433.3" r="1.35"/><circle cx="265.8" cy="433.9" r="1.35"/><circle cx="266.2" cy="434.5" r="1.35"/><circle cx="266.6" cy="433.9" r="1.35"/><circle cx="266.9" cy="434.5" r="1.35"/><circle cx="267.3" cy="434.7" r="1.35"/><circle cx="267.7" cy="433.6" r="1.35"/><circle cx="268" cy="433.6" r="1.35"/><circle cx="268.4" cy="435" r="1.35"/><circle cx="268.8" cy="434.3" r="1.35"/><circle cx="269.1" cy="435.1" r="1.35"/><circle cx="269.5" cy="435.4" r="1.35"/><circle cx="269.9" cy="434.9" r="1.35"/><circle cx="270.2" cy="434.8" r="1.35"/><circle cx="270.6" cy="435.1" r="1.35"/><circle cx="270.9" cy="436.7" r="1.35"/><circle cx="271.3" cy="434.3" r="1.35"/><circle cx="271.6" cy="436.8" r="1.35"/><circle cx="272" cy="436.2" r="1.35"/><circle cx="272.3" cy="435.9" r="1.35"/><circle cx="272.7" cy="436.8" r="1.35"/><circle cx="273" cy="436.6" r="1.35"/><circle cx="273.4" cy="436.1" r="1.35"/><circle cx="273.7" cy="436.8" r="1.35"/><circle cx="274.1" cy="437.2" r="1.35"/><circle cx="274.4" cy="437.5" r="1.35"/><circle cx="274.8" cy="437.4" r="1.35"/><circle cx="275.1" cy="437.4" r="1.35"/><circle cx="275.5" cy="435.9" r="1.35"/><circle cx="275.8" cy="437.2" r="1.35"/><circle cx="276.1" cy="438.3" r="1.35"/><circle cx="276.5" cy="438.5" r="1.35"/><circle cx="276.8" cy="437.5" r="1.35"/><circle cx="277.1" cy="437.7" r="1.35"/><circle cx="277.5" cy="437.5" r="1.35"/><circle cx="277.8" cy="437.5" r="1.35"/><circle cx="278.1" cy="439.1" r="1.35"/><circle cx="278.5" cy="439.6" r="1.35"/><circle cx="278.8" cy="439.1" r="1.35"/><circle cx="279.1" cy="439.6" r="1.35"/><circle cx="279.5" cy="440.6" r="1.35"/><circle cx="279.8" cy="438.7" r="1.35"/><circle cx="280.1" cy="439.8" r="1.6"/><circle cx="280.4" cy="439.9" r="1.6"/><circle cx="280.8" cy="440.9" r="1.6"/><circle cx="281.1" cy="439.1" r="1.6"/><circle cx="281.4" cy="439.1" r="1.6"/><circle cx="281.7" cy="440.9" r="1.6"/><circle cx="282" cy="440.2" r="1.6"/><circle cx="282.4" cy="441.1" r="1.6"/><circle cx="282.7" cy="441.6" r="1.6"/><circle cx="283" cy="441.6" r="1.6"/><circle cx="283.3" cy="442.2" r="1.6"/><circle cx="283.6" cy="441.8" r="1.6"/><circle cx="283.9" cy="441.7" r="1.6"/><circle cx="284.3" cy="440.5" r="1.6"/><circle cx="284.6" cy="442.8" r="1.6"/><circle cx="284.9" cy="441" r="1.6"/><circle cx="285.2" cy="442.3" r="1.6"/><circle cx="285.5" cy="443.8" r="1.6"/><circle cx="285.8" cy="441.3" r="1.6"/><circle cx="286.1" cy="443.7" r="1.6"/><circle cx="286.4" cy="442.5" r="1.6"/><circle cx="286.7" cy="443.3" r="1.6"/><circle cx="287" cy="442.1" r="1.6"/><circle cx="287.3" cy="442" r="1.6"/><circle cx="287.6" cy="444.5" r="1.6"/><circle cx="287.9" cy="446.2" r="1.6"/><circle cx="288.2" cy="445.2" r="1.6"/><circle cx="288.5" cy="444.8" r="1.6"/><circle cx="288.8" cy="445.1" r="1.6"/><circle cx="289.1" cy="446.7" r="1.6"/><circle cx="289.4" cy="446.8" r="1.6"/><circle cx="289.7" cy="445" r="1.6"/><circle cx="290" cy="444.8" r="1.6"/><circle cx="290.3" cy="447.7" r="1.6"/><circle cx="290.6" cy="445.8" r="1.6"/><circle cx="290.9" cy="447" r="1.6"/><circle cx="291.2" cy="447.7" r="1.6"/><circle cx="291.5" cy="446" r="1.6"/><circle cx="291.8" cy="446.5" r="1.6"/><circle cx="292" cy="445.8" r="1.6"/><circle cx="292.3" cy="448.5" r="1.6"/><circle cx="292.6" cy="447.5" r="1.6"/><circle cx="292.9" cy="448.7" r="1.6"/><circle cx="293.2" cy="446.7" r="1.6"/><circle cx="293.5" cy="449" r="1.6"/><circle cx="293.8" cy="447.7" r="1.6"/><circle cx="294" cy="448.5" r="1.6"/><circle cx="294.3" cy="447.7" r="1.6"/><circle cx="294.6" cy="448.9" r="1.6"/><circle cx="294.9" cy="450.1" r="1.6"/><circle cx="295.2" cy="449.2" r="1.6"/><circle cx="295.4" cy="449.3" r="1.6"/><circle cx="295.7" cy="450.1" r="1.6"/><circle cx="296" cy="449.4" r="1.6"/><circle cx="296.3" cy="450.2" r="1.6"/><circle cx="296.6" cy="449.9" r="1.6"/><circle cx="296.8" cy="450.7" r="1.6"/><circle cx="297.1" cy="449.5" r="1.6"/><circle cx="297.4" cy="450.1" r="1.6"/><circle cx="297.7" cy="450.2" r="1.6"/><circle cx="297.9" cy="451.6" r="1.6"/><circle cx="298.2" cy="450.6" r="1.6"/><circle cx="298.5" cy="449.1" r="1.6"/><circle cx="298.7" cy="449" r="1.6"/><circle cx="299" cy="450.3" r="1.6"/><circle cx="299.3" cy="450" r="1.6"/><circle cx="299.5" cy="449.5" r="1.6"/><circle cx="299.8" cy="449.9" r="1.6"/><circle cx="300.1" cy="451.3" r="1.6"/><circle cx="300.3" cy="448.7" r="1.6"/><circle cx="300.6" cy="450.9" r="1.6"/><circle cx="300.9" cy="450.4" r="1.6"/><circle cx="301.1" cy="452.3" r="1.6"/><circle cx="301.4" cy="449" r="1.6"/><circle cx="301.7" cy="451.3" r="1.6"/><circle cx="301.9" cy="450.7" r="1.6"/><circle cx="302.2" cy="451.1" r="1.6"/><circle cx="302.4" cy="451.5" r="1.6"/><circle cx="302.7" cy="453.1" r="1.6"/><circle cx="303" cy="451.5" r="1.6"/><circle cx="303.2" cy="451.7" r="1.6"/><circle cx="303.5" cy="449.8" r="1.6"/><circle cx="303.7" cy="452.1" r="1.6"/><circle cx="304" cy="450" r="1.6"/><circle cx="304.2" cy="451.4" r="1.6"/><circle cx="304.5" cy="452.2" r="1.6"/><circle cx="304.7" cy="453.3" r="1.6"/><circle cx="305" cy="453" r="1.6"/><circle cx="305.3" cy="452.3" r="1.6"/><circle cx="305.5" cy="453" r="1.6"/><circle cx="305.8" cy="452" r="1.6"/><circle cx="306" cy="452.4" r="1.6"/><circle cx="306.3" cy="452.3" r="1.6"/><circle cx="306.5" cy="453.4" r="1.6"/><circle cx="306.8" cy="452.3" r="1.6"/><circle cx="307" cy="451.6" r="1.6"/><circle cx="307.3" cy="451.5" r="1.6"/><circle cx="307.5" cy="455.6" r="1.6"/><circle cx="307.7" cy="450.7" r="1.6"/><circle cx="308" cy="453" r="1.6"/><circle cx="308.2" cy="453" r="1.6"/><circle cx="308.5" cy="453.1" r="1.6"/><circle cx="308.7" cy="452.3" r="1.6"/><circle cx="309" cy="454.1" r="1.6"/><circle cx="309.2" cy="453.7" r="1.6"/><circle cx="309.5" cy="452.6" r="1.6"/><circle cx="309.7" cy="453.4" r="1.6"/><circle cx="309.9" cy="452.4" r="1.6"/><circle cx="310.2" cy="454.5" r="1.6"/><circle cx="310.4" cy="456.4" r="1.6"/><circle cx="310.7" cy="456" r="1.6"/><circle cx="310.9" cy="455.5" r="1.6"/><circle cx="311.1" cy="454.4" r="1.6"/><circle cx="311.4" cy="454.5" r="1.6"/><circle cx="311.6" cy="455" r="1.6"/><circle cx="311.8" cy="456.4" r="1.6"/><circle cx="312.1" cy="454.6" r="1.6"/><circle cx="312.3" cy="454.5" r="1.6"/><circle cx="312.6" cy="453.1" r="1.6"/><circle cx="312.8" cy="454.6" r="1.6"/><circle cx="313" cy="454.8" r="1.6"/><circle cx="313.3" cy="453.8" r="1.6"/><circle cx="313.5" cy="453.5" r="1.6"/><circle cx="313.7" cy="454.7" r="1.6"/><circle cx="314" cy="455.1" r="1.6"/><circle cx="314.2" cy="453.8" r="1.6"/><circle cx="314.4" cy="455.7" r="1.6"/><circle cx="314.6" cy="454.4" r="1.6"/><circle cx="314.9" cy="455.2" r="1.6"/><circle cx="315.1" cy="456.7" r="1.6"/><circle cx="315.3" cy="454.2" r="1.6"/><circle cx="315.6" cy="454.8" r="1.6"/><circle cx="315.8" cy="454.5" r="1.6"/><circle cx="316" cy="454.5" r="1.6"/><circle cx="316.2" cy="455.3" r="1.6"/><circle cx="316.5" cy="453" r="1.6"/><circle cx="316.7" cy="455.3" r="1.6"/><circle cx="316.9" cy="453.2" r="1.6"/><circle cx="317.1" cy="454.2" r="1.6"/><circle cx="317.4" cy="456" r="1.6"/><circle cx="317.6" cy="452.9" r="1.6"/><circle cx="317.8" cy="456.7" r="1.6"/><circle cx="318" cy="457.4" r="1.6"/><circle cx="318.3" cy="456.5" r="1.6"/><circle cx="318.5" cy="456" r="1.6"/><circle cx="318.7" cy="455.3" r="1.6"/><circle cx="318.9" cy="454.9" r="1.6"/><circle cx="319.1" cy="457.9" r="1.6"/><circle cx="319.4" cy="453.9" r="1.6"/><circle cx="319.6" cy="455.2" r="1.6"/><circle cx="319.8" cy="455.9" r="1.6"/><circle cx="320" cy="454.5" r="1.6"/><circle cx="320.2" cy="453.5" r="1.6"/><circle cx="320.4" cy="455.4" r="1.6"/><circle cx="320.7" cy="455.1" r="1.6"/><circle cx="320.9" cy="452.8" r="1.6"/><circle cx="321.1" cy="454.2" r="1.6"/><circle cx="321.3" cy="453.9" r="1.6"/><circle cx="321.5" cy="454.5" r="1.6"/><circle cx="321.7" cy="455.5" r="1.6"/><circle cx="321.9" cy="455.9" r="1.6"/><circle cx="322.2" cy="453.2" r="1.6"/><circle cx="322.4" cy="454.7" r="1.6"/><circle cx="322.6" cy="453.9" r="1.6"/><circle cx="322.8" cy="452.6" r="1.6"/><circle cx="323" cy="455.5" r="1.6"/><circle cx="323.2" cy="454" r="1.6"/><circle cx="323.4" cy="454.3" r="1.6"/><circle cx="323.6" cy="451.9" r="1.6"/><circle cx="323.8" cy="455.2" r="1.6"/><circle cx="324.1" cy="454.6" r="1.6"/><circle cx="324.3" cy="455.4" r="1.6"/><circle cx="324.5" cy="453.8" r="1.6"/><circle cx="324.7" cy="456.4" r="1.6"/><circle cx="324.9" cy="454.8" r="1.6"/><circle cx="325.1" cy="453.7" r="1.6"/><circle cx="325.3" cy="454.9" r="1.6"/><circle cx="325.5" cy="455.2" r="1.6"/><circle cx="325.7" cy="453.5" r="1.6"/><circle cx="325.9" cy="455.7" r="1.6"/><circle cx="326.1" cy="454.9" r="1.6"/><circle cx="326.3" cy="455.2" r="1.6"/><circle cx="326.5" cy="455.5" r="1.6"/><circle cx="326.7" cy="457.6" r="1.6"/><circle cx="326.9" cy="454" r="1.6"/><circle cx="327.1" cy="453.4" r="1.6"/><circle cx="327.3" cy="454.6" r="1.6"/><circle cx="327.5" cy="453.9" r="1.6"/><circle cx="327.8" cy="451.1" r="1.6"/><circle cx="328" cy="456.8" r="1.6"/><circle cx="328.2" cy="454.8" r="1.6"/><circle cx="328.4" cy="452" r="1.6"/><circle cx="328.6" cy="453.4" r="1.6"/><circle cx="328.8" cy="454.7" r="1.6"/><circle cx="329" cy="453.9" r="1.6"/><circle cx="329.1" cy="453.9" r="1.6"/><circle cx="329.3" cy="454.8" r="1.6"/><circle cx="329.5" cy="455.9" r="1.6"/><circle cx="329.7" cy="455.9" r="1.6"/><circle cx="329.9" cy="454.9" r="1.6"/><circle cx="330.1" cy="455.2" r="1.6"/><circle cx="330.3" cy="452.6" r="1.6"/><circle cx="330.5" cy="452.7" r="1.6"/><circle cx="330.7" cy="454.8" r="1.6"/><circle cx="330.9" cy="454.1" r="1.6"/><circle cx="331.1" cy="455.1" r="1.6"/><circle cx="331.3" cy="453.8" r="1.6"/><circle cx="331.5" cy="454.1" r="1.6"/><circle cx="331.7" cy="454.9" r="1.6"/><circle cx="331.9" cy="451.9" r="1.6"/><circle cx="332.1" cy="453.4" r="1.6"/><circle cx="332.3" cy="456" r="1.6"/><circle cx="332.5" cy="455.2" r="1.6"/><circle cx="332.7" cy="453.8" r="1.6"/><circle cx="332.9" cy="455.6" r="1.6"/><circle cx="333" cy="457.7" r="1.6"/><circle cx="333.2" cy="457.2" r="1.6"/><circle cx="333.4" cy="453.7" r="1.6"/><circle cx="333.6" cy="454.6" r="1.6"/><circle cx="333.8" cy="452.8" r="1.6"/><circle cx="334" cy="454.7" r="1.6"/><circle cx="334.2" cy="453.8" r="1.6"/><circle cx="334.4" cy="454.5" r="1.6"/><circle cx="334.6" cy="456.1" r="1.6"/><circle cx="334.7" cy="455.3" r="1.6"/><circle cx="334.9" cy="455.4" r="1.6"/><circle cx="335.1" cy="453.6" r="1.6"/><circle cx="335.3" cy="457.2" r="1.6"/><circle cx="335.5" cy="455.5" r="1.6"/><circle cx="335.7" cy="454" r="1.6"/><circle cx="335.9" cy="456" r="1.6"/><circle cx="336.1" cy="457.6" r="1.6"/><circle cx="336.2" cy="454.1" r="1.6"/><circle cx="336.4" cy="456.7" r="1.6"/><circle cx="336.6" cy="454.3" r="1.6"/><circle cx="336.8" cy="457.4" r="1.6"/><circle cx="337" cy="457.1" r="1.6"/><circle cx="337.2" cy="455.8" r="1.6"/><circle cx="337.3" cy="454.8" r="1.6"/><circle cx="337.5" cy="454.1" r="1.6"/><circle cx="337.7" cy="455" r="1.6"/><circle cx="337.9" cy="457.5" r="1.6"/><circle cx="338.1" cy="456.8" r="1.6"/><circle cx="338.2" cy="456.3" r="1.6"/><circle cx="338.4" cy="455.6" r="1.6"/><circle cx="338.6" cy="456.2" r="1.6"/><circle cx="338.8" cy="457.2" r="1.6"/><circle cx="339" cy="453" r="1.6"/><circle cx="339.1" cy="455.8" r="1.6"/><circle cx="339.3" cy="456.5" r="1.6"/><circle cx="339.5" cy="454.9" r="1.6"/><circle cx="339.7" cy="455.7" r="1.6"/><circle cx="339.9" cy="456.3" r="1.6"/><circle cx="340" cy="454.9" r="1.6"/><circle cx="340.2" cy="454.8" r="1.6"/><circle cx="340.4" cy="454.5" r="1.6"/><circle cx="340.6" cy="455.2" r="1.6"/><circle cx="340.8" cy="456.5" r="1.6"/><circle cx="340.9" cy="457.8" r="1.6"/><circle cx="341.1" cy="456.5" r="1.6"/><circle cx="341.3" cy="456.2" r="1.6"/><circle cx="341.5" cy="455.4" r="1.6"/><circle cx="341.6" cy="456.9" r="1.6"/><circle cx="341.8" cy="456.1" r="1.6"/><circle cx="342" cy="458.4" r="1.6"/><circle cx="342.2" cy="456.8" r="1.6"/><circle cx="342.3" cy="458.2" r="1.6"/><circle cx="342.5" cy="457.4" r="1.6"/><circle cx="342.7" cy="456.8" r="1.6"/><circle cx="342.8" cy="457.2" r="1.6"/><circle cx="343" cy="455.7" r="1.6"/><circle cx="343.2" cy="457.9" r="1.6"/><circle cx="343.4" cy="456.7" r="1.6"/><circle cx="343.5" cy="455.8" r="1.6"/><circle cx="343.7" cy="457.1" r="1.6"/><circle cx="343.9" cy="458.4" r="1.6"/><circle cx="344.1" cy="457.1" r="1.6"/><circle cx="344.2" cy="453.6" r="1.6"/><circle cx="344.4" cy="456.3" r="1.6"/><circle cx="344.6" cy="457.3" r="1.6"/><circle cx="344.7" cy="458.1" r="1.6"/><circle cx="344.9" cy="456.1" r="1.6"/><circle cx="345.1" cy="457.9" r="1.6"/><circle cx="345.2" cy="458.6" r="1.6"/><circle cx="345.4" cy="458.3" r="1.6"/><circle cx="345.6" cy="455.1" r="1.6"/><circle cx="345.7" cy="456.8" r="1.6"/><circle cx="345.9" cy="456.7" r="1.6"/><circle cx="346.1" cy="457.1" r="1.6"/><circle cx="346.2" cy="457.8" r="1.6"/><circle cx="346.4" cy="459.7" r="1.6"/><circle cx="346.6" cy="458" r="1.6"/><circle cx="346.7" cy="456.5" r="1.6"/><circle cx="346.9" cy="456.2" r="1.6"/><circle cx="347.1" cy="459.3" r="1.6"/><circle cx="347.2" cy="456.9" r="1.6"/><circle cx="347.4" cy="458.1" r="1.6"/><circle cx="347.6" cy="460.7" r="1.6"/><circle cx="347.7" cy="461" r="1.6"/><circle cx="347.9" cy="461" r="1.6"/><circle cx="348.1" cy="457" r="1.6"/><circle cx="348.2" cy="461.5" r="1.6"/><circle cx="348.4" cy="458.9" r="1.6"/><circle cx="348.6" cy="460.7" r="1.6"/><circle cx="348.7" cy="459.2" r="1.6"/><circle cx="348.9" cy="461" r="1.6"/><circle cx="349.1" cy="459.4" r="1.6"/><circle cx="349.2" cy="459.5" r="1.6"/><circle cx="349.4" cy="459.2" r="1.6"/><circle cx="349.5" cy="458.2" r="1.6"/><circle cx="349.7" cy="459.6" r="1.6"/><circle cx="349.9" cy="461.1" r="1.6"/><circle cx="350" cy="458" r="1.6"/><circle cx="350.2" cy="460" r="1.6"/><circle cx="350.3" cy="458.3" r="1.6"/><circle cx="350.5" cy="458.1" r="1.6"/><circle cx="350.7" cy="457.5" r="1.6"/><circle cx="350.8" cy="463" r="1.6"/><circle cx="351" cy="460.5" r="1.6"/><circle cx="351.1" cy="459.7" r="1.6"/><circle cx="351.3" cy="462" r="1.6"/><circle cx="351.5" cy="457.1" r="1.6"/><circle cx="351.6" cy="460.6" r="1.6"/><circle cx="351.8" cy="459.6" r="1.6"/><circle cx="351.9" cy="461.7" r="1.6"/><circle cx="352.1" cy="458.5" r="1.6"/><circle cx="352.2" cy="460.9" r="1.6"/><circle cx="352.4" cy="460.7" r="1.6"/><circle cx="352.6" cy="463" r="1.6"/><circle cx="352.7" cy="460" r="1.6"/><circle cx="352.9" cy="460.8" r="1.6"/><circle cx="353" cy="461.6" r="1.6"/><circle cx="353.2" cy="461.6" r="1.6"/><circle cx="353.3" cy="461.9" r="1.6"/><circle cx="353.5" cy="461.2" r="1.6"/><circle cx="353.7" cy="459.5" r="1.6"/><circle cx="353.8" cy="463.1" r="1.6"/><circle cx="354" cy="464.1" r="1.6"/><circle cx="354.1" cy="461.4" r="1.6"/><circle cx="354.3" cy="460.2" r="1.6"/><circle cx="354.4" cy="463" r="1.6"/><circle cx="354.6" cy="459.8" r="1.6"/><circle cx="354.7" cy="461.8" r="1.6"/><circle cx="354.9" cy="458.9" r="1.6"/><circle cx="355" cy="463.8" r="1.6"/><circle cx="355.2" cy="459.6" r="1.6"/><circle cx="355.3" cy="462.1" r="1.6"/></g>
<g fill="#000"><circle cx="64.7" cy="298.4" r="2.4"/><circle cx="79.1" cy="299.8" r="2.4"/><circle cx="92.2" cy="301.2" r="2.4"/><circle cx="103.1" cy="302.4" r="2.4"/><circle cx="113.1" cy="303.5" r="2.4"/><circle cx="122.2" cy="305.4" r="2.4"/><circle cx="130.3" cy="307.2" r="2.4"/><circle cx="138.4" cy="309.1" r="2.4"/><circle cx="145.3" cy="311" r="2.4"/><circle cx="151.9" cy="313.2" r="2.4"/><circle cx="157.9" cy="315.5" r="2.4"/><circle cx="164.1" cy="317.8" r="2.4"/><circle cx="169.7" cy="320" r="2.4"/><circle cx="175" cy="322.8" r="2.4"/><circle cx="180" cy="325.6" r="2.4"/><circle cx="184.7" cy="328.4" r="2.4"/><circle cx="189" cy="331.6" r="2.4"/><circle cx="193.5" cy="335" r="2.4"/><circle cx="197.8" cy="337.8" r="2.4"/><circle cx="201.9" cy="341.9" r="2.4"/><circle cx="205.2" cy="344.8" r="2.4"/><circle cx="209" cy="349.4" r="2.4"/><circle cx="212.5" cy="352.5" r="2.4"/><circle cx="216" cy="356" r="2.4"/><circle cx="219.4" cy="359.8" r="2.4"/><circle cx="222.8" cy="364.8" r="2.4"/><circle cx="226" cy="368.1" r="2.4"/><circle cx="229" cy="373.1" r="2.4"/><circle cx="231.9" cy="376" r="2.4"/><circle cx="234.8" cy="378.5" r="2.4"/><circle cx="237.2" cy="383.1" r="2.4"/><circle cx="240" cy="386.9" r="2.4"/><circle cx="242.5" cy="392.5" r="2.4"/><circle cx="245.2" cy="391.2" r="2.4"/><circle cx="247.8" cy="395.6" r="2.4"/><circle cx="250" cy="402.5" r="2.65"/><circle cx="252.5" cy="402.2" r="2.65"/><circle cx="254.1" cy="400.3" r="2.65"/><circle cx="256.9" cy="407.2" r="2.65"/><circle cx="262.4" cy="410" r="2.65"/><circle cx="269.2" cy="412.7" r="2.65"/><circle cx="265.8" cy="417.5" r="2.65"/><circle cx="274.8" cy="416.1" r="2.65"/><circle cx="277.5" cy="423" r="2.65"/><circle cx="281" cy="415.4" r="2.65"/><circle cx="283.7" cy="419.6" r="2.65"/><circle cx="288.5" cy="420.2" r="2.65"/><circle cx="294" cy="423.7" r="2.65"/><circle cx="290.6" cy="431" r="2.65"/><circle cx="296.8" cy="434.3" r="2.65"/><circle cx="292.6" cy="438.1" r="2.65"/><circle cx="300.2" cy="442.3" r="2.65"/><circle cx="301.6" cy="424.4" r="2.65"/><circle cx="304.3" cy="438.8" r="2.65"/><circle cx="306.4" cy="430.6" r="2.65"/><circle cx="305" cy="447.8" r="2.65"/><circle cx="311.2" cy="434" r="2.65"/><circle cx="313.3" cy="437.4" r="2.65"/><circle cx="317.4" cy="434" r="2.65"/><circle cx="320.1" cy="445" r="2.65"/><circle cx="325" cy="436.8" r="2.65"/><circle cx="324.2" cy="467" r="2.65"/><circle cx="326.3" cy="429.2" r="2.65"/><circle cx="329.8" cy="431.2" r="2.65"/><circle cx="329.1" cy="445" r="2.65"/><circle cx="333.2" cy="437.4" r="2.65"/><circle cx="336" cy="442.3" r="2.65"/><circle cx="339.4" cy="440.9" r="2.65"/><circle cx="338" cy="432.6" r="2.65"/><circle cx="341.5" cy="421" r="2.65"/><circle cx="345" cy="430.6" r="2.65"/><circle cx="347.7" cy="430.6" r="2.65"/><circle cx="345.6" cy="436.8" r="2.65"/><circle cx="346.3" cy="447.8" r="2.65"/><circle cx="348.3" cy="452.6" r="2.65"/><circle cx="349.7" cy="443.6" r="2.65"/><circle cx="351.1" cy="434" r="2.65"/><circle cx="351.1" cy="423" r="2.65"/><circle cx="352.5" cy="419.6" r="2.65"/><circle cx="343.5" cy="491.8" r="2.65"/><circle cx="258.5" cy="405" r="2.65"/><circle cx="260.2" cy="408.1" r="2.65"/><circle cx="263.1" cy="410" r="2.65"/><circle cx="271.9" cy="418.8" r="2.65"/><circle cx="275" cy="416.2" r="2.65"/><circle cx="278.1" cy="422.5" r="2.65"/><circle cx="298" cy="426.9" r="2.65"/><circle cx="308.5" cy="428" r="2.65"/><circle cx="315" cy="441" r="2.65"/><circle cx="322" cy="438" r="2.65"/><circle cx="327.5" cy="438" r="2.65"/><circle cx="331" cy="440" r="2.65"/><circle cx="335" cy="428" r="2.65"/><circle cx="343" cy="432" r="2.65"/><circle cx="350" cy="428" r="2.65"/></g>
<path d="M59.8 496H64M59.8 430.9H64M59.8 365.7H64M59.8 300.6H64M61.2 476.4H64M61.2 464.9H64M61.2 456.8H64M61.2 450.5H64M61.2 445.3H64M61.2 441H64M61.2 437.2H64M61.2 433.8H64M61.2 411.3H64M61.2 399.8H64M61.2 391.7H64M61.2 385.3H64M61.2 380.2H64M61.2 375.8H64M61.2 372H64M61.2 368.7H64M61.2 346.1H64M61.2 334.7H64M61.2 326.5H64M61.2 320.2H64M61.2 315.1H64M61.2 310.7H64M61.2 306.9H64M61.2 303.6H64M61.2 281H64M86.2 496V500.2M315.1 496V500.2M64 496V498.5M75.7 496V498.5M155.1 496V498.5M195.4 496V498.5M224 496V498.5M246.2 496V498.5M264.3 496V498.5M279.6 496V498.5M292.9 496V498.5M304.6 496V498.5" stroke="#3a3a3a" stroke-width="1.2" fill="none"/>
<path d="M64 496H355.4M64 496V281" stroke="#686868" stroke-width="1.3" fill="none"/>
<g fill="#000"><circle cx="492.4" cy="347.6" r="1.05"/><circle cx="493.6" cy="347.9" r="1.05"/><circle cx="494.8" cy="348.3" r="1.05"/><circle cx="496.2" cy="348.6" r="1.05"/><circle cx="497.8" cy="349" r="1.05"/><circle cx="499.4" cy="349.5" r="1.05"/><circle cx="501.2" cy="349.9" r="1.05"/><circle cx="503.1" cy="350.4" r="1.05"/><circle cx="505.1" cy="350.9" r="1.05"/><circle cx="506.2" cy="351.2" r="1.05"/><circle cx="507.3" cy="351.5" r="1.05"/><circle cx="508.4" cy="351.8" r="1.05"/><circle cx="509.5" cy="352.1" r="1.05"/><circle cx="510.7" cy="352.4" r="1.05"/><circle cx="511.9" cy="352.7" r="1.05"/><circle cx="513.2" cy="353" r="1.05"/><circle cx="514.4" cy="353.4" r="1.05"/><circle cx="515.7" cy="353.7" r="1.05"/><circle cx="517.1" cy="354.1" r="1.05"/><circle cx="518.4" cy="354.4" r="1.05"/><circle cx="519.8" cy="354.8" r="1.05"/><circle cx="521.3" cy="355.2" r="1.05"/><circle cx="522.7" cy="355.5" r="1.05"/><circle cx="524.2" cy="355.9" r="1.05"/><circle cx="525.7" cy="356.3" r="1.05"/><circle cx="527.3" cy="356.7" r="1.05"/><circle cx="528.8" cy="357.1" r="1.05"/><circle cx="530.5" cy="357.6" r="1.05"/><circle cx="532.1" cy="358" r="1.05"/><circle cx="533.8" cy="358.4" r="1.05"/><circle cx="535.5" cy="358.9" r="1.05"/><circle cx="537.2" cy="359.3" r="1.05"/><circle cx="539" cy="359.8" r="1.05"/><circle cx="540.8" cy="360.3" r="1.05"/><circle cx="542.6" cy="360.7" r="1.05"/><circle cx="544.5" cy="361.2" r="1.05"/><circle cx="546.3" cy="361.7" r="1.05"/><circle cx="548.3" cy="362.2" r="1.05"/><circle cx="550.2" cy="362.7" r="1.05"/><circle cx="552.2" cy="363.2" r="1.05"/><circle cx="554.2" cy="363.8" r="1.05"/><circle cx="556.2" cy="364.3" r="1.05"/><circle cx="558.3" cy="364.8" r="1.05"/><circle cx="560.4" cy="365.4" r="1.05"/><circle cx="562.6" cy="365.9" r="1.05"/><circle cx="564.7" cy="366.5" r="1.05"/><circle cx="566.9" cy="367.1" r="1.05"/><circle cx="569.1" cy="367.7" r="1.05"/><circle cx="571.4" cy="368.3" r="1.05"/><circle cx="573.7" cy="368.9" r="1.05"/><circle cx="576" cy="369.5" r="1.05"/><circle cx="578.4" cy="370.1" r="1.05"/><circle cx="580.7" cy="370.7" r="1.05"/><circle cx="583.2" cy="371.3" r="1.05"/><circle cx="585.6" cy="372" r="1.05"/><circle cx="588.1" cy="372.6" r="1.05"/><circle cx="590.6" cy="373.3" r="1.05"/><circle cx="593.1" cy="373.9" r="1.05"/><circle cx="595.7" cy="374.6" r="1.05"/><circle cx="598.3" cy="375.3" r="1.05"/><circle cx="600.9" cy="376" r="1.05"/><circle cx="603.6" cy="376.7" r="1.05"/><circle cx="606.2" cy="377.4" r="1.05"/><circle cx="609" cy="378.1" r="1.05"/><circle cx="611.7" cy="378.8" r="1.05"/><circle cx="614.5" cy="379.5" r="1.05"/><circle cx="617.3" cy="380.2" r="1.05"/><circle cx="620.1" cy="381" r="1.05"/><circle cx="623" cy="381.7" r="1.05"/><circle cx="625.9" cy="382.5" r="1.05"/><circle cx="628.9" cy="383.3" r="1.05"/><circle cx="631.8" cy="384" r="1.05"/><circle cx="634.8" cy="384.8" r="1.05"/><circle cx="637.8" cy="385.6" r="1.05"/><circle cx="640.9" cy="386.4" r="1.05"/><circle cx="644" cy="387.2" r="1.05"/><circle cx="647.1" cy="388" r="1.05"/><circle cx="650.3" cy="388.9" r="1.05"/><circle cx="653.4" cy="389.7" r="1.05"/><circle cx="656.7" cy="390.5" r="1.05"/><circle cx="659.9" cy="391.4" r="1.05"/><circle cx="663.2" cy="392.2" r="1.05"/><circle cx="666.5" cy="393.1" r="1.05"/><circle cx="669.8" cy="394" r="1.05"/><circle cx="673.2" cy="394.8" r="1.05"/><circle cx="676.6" cy="395.7" r="1.05"/><circle cx="680" cy="396.6" r="1.05"/><circle cx="683.5" cy="397.5" r="1.05"/><circle cx="686.9" cy="398.4" r="1.05"/><circle cx="690.5" cy="399.4" r="1.05"/><circle cx="694" cy="400.3" r="1.05"/><circle cx="697.6" cy="401.2" r="1.05"/><circle cx="701.2" cy="402.2" r="1.05"/><circle cx="704.9" cy="403.1" r="1.05"/><circle cx="708.5" cy="404.1" r="1.05"/><circle cx="712.2" cy="405.1" r="1.05"/><circle cx="716" cy="406" r="1.05"/><circle cx="719.7" cy="407" r="1.05"/><circle cx="723.5" cy="408" r="1.05"/><circle cx="727.4" cy="409" r="1.05"/><circle cx="731.2" cy="410" r="1.05"/><circle cx="735.1" cy="411" r="1.05"/><circle cx="739" cy="412.1" r="1.05"/><circle cx="743" cy="413.1" r="1.05"/><circle cx="747" cy="414.1" r="1.05"/><circle cx="751" cy="415.2" r="1.05"/><circle cx="755" cy="416.2" r="1.05"/><circle cx="759.1" cy="417.3" r="1.05"/><circle cx="763.2" cy="418.4" r="1.05"/><circle cx="767.3" cy="419.4" r="1.05"/><circle cx="771.5" cy="420.5" r="1.05"/><circle cx="775.7" cy="421.6" r="1.05"/></g>
<path d="M492.5 347.2L537 358.8" stroke="#000" stroke-width="1.3"/>
<path d="M487.5 305.9L778.5 380.7" stroke="#e41c1c" stroke-width="1.4" fill="none"/>
<g fill="#000"><circle cx="506" cy="309.7" r="2.5"/><circle cx="512.6" cy="312.1" r="2.5"/><circle cx="519.7" cy="314" r="2.5"/><circle cx="528.1" cy="315.9" r="2.5"/><circle cx="537.5" cy="318.5" r="2.5"/><circle cx="547.2" cy="320.6" r="2.5"/><circle cx="558.1" cy="323.8" r="2.5"/><circle cx="570.3" cy="327.1" r="2.5"/><circle cx="582.9" cy="330" r="2.5"/><circle cx="596.6" cy="333.9" r="2.5"/><circle cx="611" cy="337.8" r="2.5"/><circle cx="626.6" cy="340.8" r="2.5"/><circle cx="643" cy="345" r="2.5"/><circle cx="660.6" cy="349.6" r="2.5"/><circle cx="679" cy="354.4" r="2.5"/><circle cx="698.4" cy="359.4" r="2.5"/><circle cx="718.4" cy="365" r="2.5"/><circle cx="739.4" cy="369.6" r="2.5"/><circle cx="761.4" cy="374.4" r="2.5"/></g>
<path d="M483.3 421H487.5M483.3 313.8H487.5M484.7 495.9H487.5M484.7 477H487.5M484.7 463.6H487.5M484.7 453.2H487.5M484.7 444.8H487.5M484.7 437.6H487.5M484.7 431.4H487.5M484.7 425.9H487.5M484.7 388.7H487.5M484.7 369.8H487.5M484.7 356.4H487.5M484.7 346H487.5M484.7 337.6H487.5M484.7 330.4H487.5M484.7 324.2H487.5M484.7 318.7H487.5M484.7 281.5H487.5M487.5 495.9V500.1M633 495.9V500.1M778.5 495.9V500.1M516.6 495.9V498.4M545.7 495.9V498.4M574.8 495.9V498.4M603.9 495.9V498.4M662.1 495.9V498.4M691.2 495.9V498.4M720.3 495.9V498.4M749.4 495.9V498.4" stroke="#333" stroke-width="1.2" fill="none"/>
<path d="M487.5 495.9H778.5M487.5 495.9V281.5" stroke="#333" stroke-width="1.2" fill="none"/>
<path d="M258.9 693.9V699.1M257.1 693.9H260.7M257.1 699.1H260.7M262.4 695.7V701.5M260.6 695.7H264.2M260.6 701.5H264.2M265.1 700.9V707.4M263.3 700.9H266.9M263.3 707.4H266.9M269.2 702.1V708.8M267.4 702.1H271.1M267.4 708.8H271.1M275.4 700.6V708.4M273.6 700.6H277.2M273.6 708.4H277.2M272 707V714.1M270.2 707H273.8M270.2 714.1H273.8M278.2 707.3V715.6M276.4 707.3H280M276.4 715.6H280M281.6 707.2V716.6M279.8 707.2H283.4M279.8 716.6H283.4M283 712V721M281.2 712H284.8M281.2 721H284.8M286.5 711.7V722.4M284.7 711.7H288.3M284.7 722.4H288.3M279.6 719V728.3M277.8 719H281.4M277.8 728.3H281.4M289.2 714.9V726M287.4 714.9H291M287.4 726H291M292.6 718.9V731.5M290.8 718.9H294.4M290.8 731.5H294.4M287.8 724.6V734.7M286 724.6H289.6M286 734.7H289.6M291.2 721.9V731.9M289.4 721.9H293.1M289.4 731.9H293.1M296.8 720.8V733.9M294.9 720.8H298.6M294.9 733.9H298.6M295.4 725.7V738M293.6 725.7H297.2M293.6 738H297.2M300.9 718.2V732.4M299.1 718.2H302.7M299.1 732.4H302.7M304.3 720.5V735.7M302.5 720.5H306.1M302.5 735.7H306.1M307.8 717.4V731.2M305.9 717.4H309.6M305.9 731.2H309.6M305 724.2V737.5M303.2 724.2H306.8M303.2 737.5H306.8M309.1 720.3V735.2M307.3 720.3H310.9M307.3 735.2H310.9M312.6 724.7V739.8M310.8 724.7H314.4M310.8 739.8H314.4M317.4 712.3V727.6M315.6 712.3H319.2M315.6 727.6H319.2M314.6 718.5V733.3M312.8 718.5H316.4M312.8 733.3H316.4M318.8 717.8V736M316.9 717.8H320.6M316.9 736H320.6M316.7 726.4V743.3M314.9 726.4H318.5M314.9 743.3H318.5M320.1 728.5V744.6M318.3 728.5H321.9M318.3 744.6H321.9M322.9 725.4V741.5M321.1 725.4H324.7M321.1 741.5H324.7M298.1 737.7V751.8M296.3 737.7H299.9M296.3 751.8H299.9M299.5 742.1V754.9M297.7 742.1H301.3M297.7 754.9H301.3M306.4 734.6V747.1M304.6 734.6H308.2M304.6 747.1H308.2M310.5 741.7V757.3M308.7 741.7H312.3M308.7 757.3H312.3M314 736V749.9M312.2 736H315.8M312.2 749.9H315.8M322.2 738.8V758.8M320.4 738.8H324M320.4 758.8H324M320.8 755.4V769.6M319 755.4H322.6M319 769.6H322.6M325 758.1V771.7M323.2 758.1H326.8M323.2 771.7H326.8M324.2 760.6V779.2M322.4 760.6H326.1M322.4 779.2H326.1M327 732.6V751.8M325.2 732.6H328.8M325.2 751.8H328.8M328.4 709.7V731.6M326.6 709.7H330.2M326.6 731.6H330.2M329.8 728.3V747.7M327.9 728.3H331.6M327.9 747.7H331.6M298.5 740V769.4M296.7 740H300.3M296.7 769.4H300.3M299.8 745V778.3M298 745H301.6M298 778.3H301.6M306.4 739.1V760.5M304.6 739.1H308.2M304.6 760.5H308.2M310.5 745V778M308.7 745H312.3M308.7 778H312.3M314 744V767.6M312.2 744H315.8M312.2 767.6H315.8M318.3 737V773.5M316.5 737H320.1M316.5 773.5H320.1M321.5 735V780M319.7 735H323.3M319.7 780H323.3M325 712V780M323.2 712H326.8M323.2 780H326.8M331.2 715V780M329.4 715H333M329.4 780H333M337.3 712V780M335.5 712H339.1M335.5 780H339.1M340.8 710V780M338.9 710H342.6M338.9 780H342.6M344.2 706V780M342.4 706H346M342.4 780H346M348.3 708V780M346.5 708H350.1M346.5 780H350.1M317.4 713.7V728M315.6 713.7H319.2M315.6 728H319.2M328.4 713V730M326.6 713H330.2M326.6 730H330.2M339.4 708.2V722M337.6 708.2H341.2M337.6 722H341.2M344.9 704.1V720M343.1 704.1H346.7M343.1 720H346.7M346.3 706.8V728M344.5 706.8H348.1M344.5 728H348.1M322.9 723.3V740M321.1 723.3H324.7M321.1 740H324.7M305.5 716.5V732M303.7 716.5H307.3M303.7 732H307.3M296 717.8V735M294.2 717.8H297.8M294.2 735H297.8" stroke="#b4b4b4" stroke-width="1" fill="none"/>
<g fill="#000"><circle cx="62.5" cy="623.2" r="2.4"/><circle cx="77.2" cy="622.2" r="2.4"/><circle cx="90" cy="623.7" r="2.4"/><circle cx="101.2" cy="625.8" r="2.4"/><circle cx="110.8" cy="627.3" r="2.4"/><circle cx="119.8" cy="629.7" r="2.4"/><circle cx="128" cy="631.2" r="2.4"/><circle cx="135.7" cy="634.8" r="2.4"/><circle cx="142.8" cy="636" r="2.4"/><circle cx="149.2" cy="639" r="2.4"/><circle cx="155.8" cy="643.9" r="2.4"/><circle cx="161.2" cy="648" r="2.4"/><circle cx="166.8" cy="651" r="2.4"/><circle cx="172.3" cy="652.8" r="2.4"/><circle cx="177" cy="657.8" r="2.4"/><circle cx="181.9" cy="661" r="2.4"/><circle cx="186.6" cy="664.8" r="2.4"/><circle cx="190.8" cy="669.1" r="2.4"/><circle cx="194.4" cy="674.8" r="2.4"/><circle cx="199.3" cy="676.9" r="2.4"/><circle cx="202.5" cy="677.6" r="2.4"/><circle cx="205.7" cy="679.7" r="2.4"/><circle cx="210" cy="686.9" r="2.4"/><circle cx="216.3" cy="686.5" r="2.4"/><circle cx="220.6" cy="688.6" r="2.4"/><circle cx="222.7" cy="693.9" r="2.4"/><circle cx="225.9" cy="690.3" r="2.4"/><circle cx="229.1" cy="692.9" r="2.4"/><circle cx="232.2" cy="695" r="2.4"/><circle cx="235.4" cy="697.1" r="2.4"/><circle cx="239.7" cy="690.8" r="2.4"/><circle cx="242.9" cy="696.1" r="2.4"/><circle cx="246.1" cy="695" r="2.4"/><circle cx="249.2" cy="692.9" r="2.4"/><circle cx="251.4" cy="693.8" r="2.6"/><circle cx="255.5" cy="695.1" r="2.6"/><circle cx="258.9" cy="696.5" r="2.6"/><circle cx="262.4" cy="698.6" r="2.6"/><circle cx="256.2" cy="700.6" r="2.6"/><circle cx="265.1" cy="704.1" r="2.6"/><circle cx="269.2" cy="705.4" r="2.6"/><circle cx="275.4" cy="704.1" r="2.6"/><circle cx="272" cy="710.2" r="2.6"/><circle cx="278.2" cy="711" r="2.6"/><circle cx="281.6" cy="711.6" r="2.6"/><circle cx="283" cy="717.1" r="2.6"/><circle cx="286.5" cy="717.1" r="2.6"/><circle cx="279.6" cy="723.3" r="2.6"/><circle cx="289.2" cy="720.6" r="2.6"/><circle cx="292.6" cy="724" r="2.6"/><circle cx="287.8" cy="728.8" r="2.6"/><circle cx="291.2" cy="727.4" r="2.6"/><circle cx="296.8" cy="726.8" r="2.6"/><circle cx="295.4" cy="732.2" r="2.6"/><circle cx="300.9" cy="725.4" r="2.6"/><circle cx="304.3" cy="726.8" r="2.6"/><circle cx="307.8" cy="722.6" r="2.6"/><circle cx="305" cy="730.9" r="2.6"/><circle cx="309.1" cy="728.1" r="2.6"/><circle cx="312.6" cy="731.6" r="2.6"/><circle cx="317.4" cy="720.6" r="2.6"/><circle cx="314.6" cy="725.4" r="2.6"/><circle cx="318.8" cy="725.4" r="2.6"/><circle cx="316.7" cy="733" r="2.6"/><circle cx="320.1" cy="735.7" r="2.6"/><circle cx="322.9" cy="732.2" r="2.6"/><circle cx="298.1" cy="744.6" r="2.6"/><circle cx="299.5" cy="748.8" r="2.6"/><circle cx="306.4" cy="740.5" r="2.6"/><circle cx="310.5" cy="748.8" r="2.6"/><circle cx="314" cy="744" r="2.6"/><circle cx="322.2" cy="747.4" r="2.6"/><circle cx="320.8" cy="763.2" r="2.6"/><circle cx="325" cy="765.3" r="2.6"/><circle cx="324.2" cy="767.3" r="2.6"/><circle cx="327" cy="741.2" r="2.6"/><circle cx="328.4" cy="719.2" r="2.6"/><circle cx="329.8" cy="737.1" r="2.6"/><circle cx="331.8" cy="731.6" r="2.6"/><circle cx="333.2" cy="726.1" r="2.6"/><circle cx="335.2" cy="735" r="2.6"/><circle cx="334.9" cy="739.1" r="2.6"/><circle cx="331.2" cy="758.4" r="2.6"/><circle cx="339.4" cy="716.4" r="2.6"/><circle cx="341.5" cy="726.1" r="2.6"/><circle cx="343.5" cy="724" r="2.6"/><circle cx="346.3" cy="720.6" r="2.6"/><circle cx="344.9" cy="713.7" r="2.6"/><circle cx="347.7" cy="730.2" r="2.6"/><circle cx="344.2" cy="749.5" r="2.6"/><circle cx="340.8" cy="757.7" r="2.6"/><circle cx="342.2" cy="761.2" r="2.6"/></g>
<path d="M169.6 619.6L316.8 703.5" stroke="#111" stroke-width="1.8"/>
<path d="M56.8 780.2H61M56.8 715.2H61M56.8 650.1H61M56.8 585.1H61M58.2 760.7H61M58.2 749.2H61M58.2 741.1H61M58.2 734.8H61M58.2 729.6H61M58.2 725.3H61M58.2 721.5H61M58.2 718.2H61M58.2 695.6H61M58.2 684.2H61M58.2 676H61M58.2 669.7H61M58.2 664.6H61M58.2 660.2H61M58.2 656.4H61M58.2 653.1H61M58.2 630.6H61M58.2 619.1H61M58.2 611H61M58.2 604.7H61M58.2 599.5H61M58.2 595.2H61M58.2 591.4H61M58.2 588.1H61M58.2 565.5H61M83.1 780.2V784.5M311.6 780.2V784.5M61 780.2V782.8M72.7 780.2V782.8M151.9 780.2V782.8M192.1 780.2V782.8M220.7 780.2V782.8M242.8 780.2V782.8M260.9 780.2V782.8M276.2 780.2V782.8M289.4 780.2V782.8M301.1 780.2V782.8" stroke="#3a3a3a" stroke-width="1.2" fill="none"/>
<path d="M61 780.2H351.8M61 780.2V565.5" stroke="#686868" stroke-width="1.3" fill="none"/>
<path d="M487.5 650.7L778.5 749.7" stroke="#e41c1c" stroke-width="1.4" fill="none"/>
<g fill="#000"><circle cx="506.9" cy="660.6" r="2.4"/><circle cx="513.5" cy="659.1" r="2.4"/><circle cx="521" cy="661.8" r="2.4"/><circle cx="529.1" cy="664.8" r="2.4"/><circle cx="538.8" cy="667.4" r="2.4"/><circle cx="548.4" cy="671.1" r="2.4"/><circle cx="559.4" cy="674.1" r="2.4"/><circle cx="571.6" cy="679.8" r="2.4"/><circle cx="584.8" cy="681.6" r="2.4"/><circle cx="598.1" cy="686.9" r="2.4"/><circle cx="613.1" cy="695.1" r="2.4"/><circle cx="629.4" cy="701.8" r="2.4"/><circle cx="645.4" cy="706.6" r="2.4"/><circle cx="662.6" cy="709.4" r="2.4"/><circle cx="681" cy="717.6" r="2.4"/><circle cx="700.6" cy="723.6" r="2.4"/><circle cx="721" cy="729.6" r="2.4"/><circle cx="741.6" cy="736.6" r="2.4"/><circle cx="763.6" cy="745.6" r="2.4"/></g>
<path d="M483.3 705H487.5M483.3 597.8H487.5M484.7 780H487.5M484.7 761.1H487.5M484.7 747.7H487.5M484.7 737.3H487.5M484.7 728.8H487.5M484.7 721.6H487.5M484.7 715.4H487.5M484.7 709.9H487.5M484.7 672.8H487.5M484.7 653.9H487.5M484.7 640.5H487.5M484.7 630.1H487.5M484.7 621.6H487.5M484.7 614.4H487.5M484.7 608.2H487.5M484.7 602.7H487.5M484.7 565.5H487.5M487.5 780V784.2M633 780V784.2M778.5 780V784.2M516.6 780V782.5M545.7 780V782.5M574.8 780V782.5M603.9 780V782.5M662.1 780V782.5M691.2 780V782.5M720.3 780V782.5M749.4 780V782.5" stroke="#333" stroke-width="1.2" fill="none"/>
<path d="M487.5 780H778.5M487.5 780V565.5" stroke="#333" stroke-width="1.2" fill="none"/>
<text x="5.5" y="19.8" font-size="26" font-weight="bold" fill="#000">a</text>
<text x="432.5" y="20" font-size="26" font-weight="bold" fill="#000">b</text>
<text x="6" y="297.8" font-size="26" font-weight="bold" fill="#000">c</text>
<text x="432" y="297.5" font-size="26" font-weight="bold" fill="#000">d</text>
<text x="5" y="580" font-size="26" font-weight="bold" fill="#000">e</text>
<text x="439" y="579.8" font-size="26" font-weight="bold" fill="#000">f</text>
<text x="52.5" y="21.6" font-size="11.5" fill="#222" text-anchor="end">10<tspan font-size="8" dy="-4.8">0</tspan></text>
<text x="52.5" y="75.3" font-size="11.5" fill="#222" text-anchor="end">10<tspan font-size="8" dy="-4.8">-1</tspan></text>
<text x="52.5" y="129" font-size="11.5" fill="#222" text-anchor="end">10<tspan font-size="8" dy="-4.8">-2</tspan></text>
<text x="52.5" y="182.7" font-size="11.5" fill="#222" text-anchor="end">10<tspan font-size="8" dy="-4.8">-3</tspan></text>
<text x="52.5" y="236.5" font-size="11.5" fill="#222" text-anchor="end">10<tspan font-size="8" dy="-4.8">-4</tspan></text>
<text x="114.5" y="250.9" font-size="11.5" fill="#222" text-anchor="middle">10<tspan font-size="8" dy="-5">-2</tspan></text>
<text x="294.5" y="250.9" font-size="11.5" fill="#222" text-anchor="middle">10<tspan font-size="8" dy="-5">-1</tspan></text>
<text x="480" y="21.5" font-size="12.5" fill="#222" text-anchor="end">10<tspan font-size="8.5" dy="-5.2">0</tspan></text>
<text x="480" y="128.8" font-size="12.5" fill="#222" text-anchor="end">10<tspan font-size="8.5" dy="-5.2">-1</tspan></text>
<text x="480" y="236.5" font-size="12.5" fill="#222" text-anchor="end">10<tspan font-size="8.5" dy="-5.2">-2</tspan></text>
<text x="487.5" y="249.5" font-size="13" fill="#222" text-anchor="middle">0</text>
<text x="633" y="249.5" font-size="13" fill="#222" text-anchor="middle">0.0005</text>
<text x="777.5" y="249.5" font-size="13" fill="#222" text-anchor="middle">0.0010</text>
<text x="57" y="305.5" font-size="12" fill="#222" text-anchor="end">10<tspan font-size="8.5" dy="-5">0</tspan></text>
<text x="57" y="370.6" font-size="12" fill="#222" text-anchor="end">10<tspan font-size="8.5" dy="-5">-1</tspan></text>
<text x="57" y="435.8" font-size="12" fill="#222" text-anchor="end">10<tspan font-size="8.5" dy="-5">-2</tspan></text>
<text x="57" y="500.6" font-size="12" fill="#222" text-anchor="end">10<tspan font-size="8.5" dy="-5">-3</tspan></text>
<text x="86.9" y="515" font-size="12" fill="#222" text-anchor="middle">10<tspan font-size="8.5" dy="-5">-2</tspan></text>
<text x="314.7" y="515" font-size="12" fill="#222" text-anchor="middle">10<tspan font-size="8.5" dy="-5">-1</tspan></text>
<text x="480" y="318" font-size="11.5" fill="#222" text-anchor="end">10<tspan font-size="8" dy="-4.8">0</tspan></text>
<text x="480" y="425.4" font-size="11.5" fill="#222" text-anchor="end">10<tspan font-size="8" dy="-4.8">-1</tspan></text>
<text x="487.5" y="512.6" font-size="12" fill="#222" text-anchor="middle">0</text>
<text x="633" y="512.6" font-size="12" fill="#222" text-anchor="middle">0.0005</text>
<text x="778" y="512.6" font-size="12" fill="#222" text-anchor="middle">0.0010</text>
<text x="53.8" y="590" font-size="12" fill="#222" text-anchor="end">10<tspan font-size="8.5" dy="-5">0</tspan></text>
<text x="53.8" y="655" font-size="12" fill="#222" text-anchor="end">10<tspan font-size="8.5" dy="-5">-1</tspan></text>
<text x="53.8" y="720.2" font-size="12" fill="#222" text-anchor="end">10<tspan font-size="8.5" dy="-5">-2</tspan></text>
<text x="53.8" y="784.4" font-size="12" fill="#222" text-anchor="end">10<tspan font-size="8.5" dy="-5">-3</tspan></text>
<text x="83.5" y="799.4" font-size="12" fill="#222" text-anchor="middle">10<tspan font-size="8.5" dy="-5">-2</tspan></text>
<text x="311.7" y="799.4" font-size="12" fill="#222" text-anchor="middle">10<tspan font-size="8.5" dy="-5">-1</tspan></text>
<text x="480" y="602.5" font-size="11.5" fill="#222" text-anchor="end">10<tspan font-size="8" dy="-4.8">0</tspan></text>
<text x="480" y="709.8" font-size="11.5" fill="#222" text-anchor="end">10<tspan font-size="8" dy="-4.8">-1</tspan></text>
<text x="487.5" y="796.9" font-size="12" fill="#222" text-anchor="middle">0</text>
<text x="633" y="796.9" font-size="12" fill="#222" text-anchor="middle">0.0005</text>
<text x="778" y="796.9" font-size="12" fill="#222" text-anchor="middle">0.0010</text>
<text x="183" y="270" font-size="16.5" fill="#222">Q / Å<tspan font-size="11" dy="-7.4">-1</tspan></text>
<text x="185.5" y="529" font-size="16.5" fill="#222">Q / Å<tspan font-size="11" dy="-7.4">-1</tspan></text>
<text x="183" y="813" font-size="16.5" fill="#222">Q / Å<tspan font-size="11" dy="-7.4">-1</tspan></text>
<text x="607.5" y="271.6" font-size="18" fill="#222"><tspan font-style="italic">Q</tspan><tspan font-size="11" dy="-7.6">2</tspan><tspan dy="7.6"> / Å</tspan><tspan font-size="12" dy="-8.1">-2</tspan></text>
<text x="606.2" y="537.5" font-size="17.2" fill="#222"><tspan font-style="italic">Q</tspan><tspan font-size="10.5" dy="-7.2">2</tspan><tspan dy="7.2"> / Å</tspan><tspan font-size="11.5" dy="-7.7">-2</tspan></text>
<text x="606.2" y="821.2" font-size="17.2" fill="#222"><tspan font-style="italic">Q</tspan><tspan font-size="10.5" dy="-7.2">2</tspan><tspan dy="7.2"> / Å</tspan><tspan font-size="11.5" dy="-7.7">-2</tspan></text>
<text transform="translate(17 132.5) rotate(-90)" x="0" y="0" font-size="16.4" fill="#222" text-anchor="middle"><tspan font-style="italic">I</tspan>(Q) / cm<tspan font-size="11" dy="-6.2">-1</tspan></text>
<text transform="translate(449.5 125.1) rotate(-90)" x="0" y="0" font-size="18.2" fill="#222" text-anchor="middle"><tspan font-style="italic">I</tspan>(Q) / cm<tspan font-size="12" dy="-6.9">-1</tspan></text>
<text transform="translate(25.8 381) rotate(-90)" x="0" y="0" font-size="16.8" fill="#222" text-anchor="middle"><tspan font-style="italic">I</tspan>(Q) / cm<tspan font-size="11.2" dy="-6.4">-1</tspan></text>
<text transform="translate(449.2 381) rotate(-90)" x="0" y="0" font-size="16.8" fill="#222" text-anchor="middle"><tspan font-style="italic">I</tspan>(Q) / cm<tspan font-size="11.2" dy="-6.4">-1</tspan></text>
<text transform="translate(21.6 665.3) rotate(-90)" x="0" y="0" font-size="16.8" fill="#222" text-anchor="middle"><tspan font-style="italic">I</tspan>(Q) / cm<tspan font-size="11.2" dy="-6.4">-1</tspan></text>
<text transform="translate(449.2 665.3) rotate(-90)" x="0" y="0" font-size="16.8" fill="#222" text-anchor="middle"><tspan font-style="italic">I</tspan>(Q) / cm<tspan font-size="11.2" dy="-6.4">-1</tspan></text>
<text x="244.5" y="653.6" font-size="16" fill="#222"><tspan font-style="italic">Q</tspan><tspan font-size="10.5" dy="-7">-2</tspan></text>
</svg></body></html>
